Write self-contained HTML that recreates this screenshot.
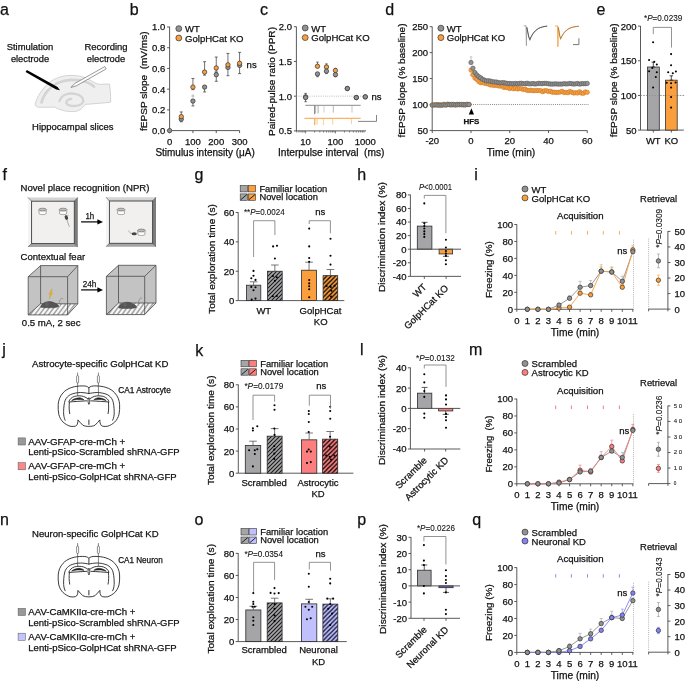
<!DOCTYPE html>
<html><head><meta charset="utf-8"><title>Figure</title>
<style>
html,body{margin:0;padding:0;background:#fff;}
body{width:685px;height:681px;overflow:hidden;}
svg{display:block;will-change:transform;}
text{font-family:"Liberation Sans",sans-serif;fill:#111111;stroke:#111111;stroke-width:0.25px;}
</style></head><body>
<svg width="685" height="681" viewBox="0 0 685 681">
<rect width="685" height="681" fill="#fff"/>
<defs>
<pattern id="hg" patternUnits="userSpaceOnUse" width="4.0" height="4.0"><rect width="4.0" height="4.0" fill="#a5a5a8"/><path d="M-1.0,1.0 L1.0,-1.0 M0,4.0 L4.0,0 M3.0,5.0 L5.0,3.0" stroke="#1a1a1a" stroke-width="1.1"/></pattern>
<pattern id="ho" patternUnits="userSpaceOnUse" width="4.4" height="4.4"><rect width="4.4" height="4.4" fill="#fa9e3e"/><path d="M-1.1,1.1 L1.1,-1.1 M0,4.4 L4.4,0 M3.3000000000000003,5.5 L5.5,3.3000000000000003" stroke="#000" stroke-width="1.25"/></pattern>
<pattern id="hs" patternUnits="userSpaceOnUse" width="4.4" height="4.4"><rect width="4.4" height="4.4" fill="#fd7e7e"/><path d="M-1.1,1.1 L1.1,-1.1 M0,4.4 L4.4,0 M3.3000000000000003,5.5 L5.5,3.3000000000000003" stroke="#000" stroke-width="1.25"/></pattern>
<pattern id="hl" patternUnits="userSpaceOnUse" width="4.4" height="4.4"><rect width="4.4" height="4.4" fill="#c0c0fd"/><path d="M-1.1,1.1 L1.1,-1.1 M0,4.4 L4.4,0 M3.3000000000000003,5.5 L5.5,3.3000000000000003" stroke="#101030" stroke-width="1.25"/></pattern>
</defs>
<!-- panel_a -->
<text x="0.00" y="14.60" font-size="16">a</text>
<text x="30.00" y="50.20" font-size="9.5" text-anchor="middle" textLength="46.70" lengthAdjust="spacingAndGlyphs">Stimulation</text>
<text x="30.00" y="61.60" font-size="9.5" text-anchor="middle" textLength="38.20" lengthAdjust="spacingAndGlyphs">electrode</text>
<text x="106.00" y="50.20" font-size="9.5" text-anchor="middle" textLength="43.20" lengthAdjust="spacingAndGlyphs">Recording</text>
<text x="106.00" y="61.60" font-size="9.5" text-anchor="middle" textLength="38.60" lengthAdjust="spacingAndGlyphs">electrode</text>
<text x="72.80" y="130.00" font-size="9.5" text-anchor="middle" textLength="81.50" lengthAdjust="spacingAndGlyphs">Hippocampal slices</text>
<filter id="sb" x="-10%" y="-10%" width="120%" height="120%"><feGaussianBlur stdDeviation="0.5"/></filter>
<path d="M35.2,104.0 C37,97 42,89 48.6,83.0 C55,77.8 63,75.5 71.0,75.4 C77,75.4 82,76.3 85.8,78.0 C90,79.8 94,82.6 97.5,84.0 C99,84.4 101,84.4 102.5,84.3 L109.4,84.0 C110.4,89 110.8,96 110.6,102.2 C104,103 95,103.6 85.5,104.4 C82.5,108.5 78.5,111.6 73.4,111.6 C69,111.6 65,111.2 62.3,110.2 C59,109.3 56.5,108.2 54.8,107.1 C49,107.3 42,107.4 38.2,107.2 C36.2,106.9 35.0,105.6 35.2,104.0 Z" fill="#efefef" stroke="#cfcfcf" stroke-width="0.9"/>
<path d="M41.2,103.5 C43,97 45,93.5 47.4,91.0 C50.5,87.3 53.5,85 57.3,83.2 C62,81 66.5,80.1 71.0,79.9 C75.5,79.8 79.5,80.2 83.3,81.2 C87,82.2 90.5,83.6 92.5,85.3 C93.6,86.2 94.3,87 94.6,87.6" fill="none" stroke="#d4d4d4" stroke-width="2.6" filter="url(#sb)"/>
<path d="M59.2,102.0 C60.5,98 62.5,95.5 65.5,94.5 C68.5,93.5 72,93.3 75,93.8 C78.5,94.4 81.5,96 82.8,98.8 C84,101.5 82.5,104 79.6,105.0 C76.5,106.1 73,106.2 70,105.6 C67.5,105.1 65.8,103.6 66.4,101.6 C67,99.8 69.5,98.8 72.2,98.8" fill="none" stroke="#d4d4d4" stroke-width="2.3" filter="url(#sb)"/>
<path d="M25.6,71.9 L26.9,69.9 L57.6,86.9 L60,90.2 L56.2,89.4 Z" fill="#000"/>
<path d="M71,87.4 L74.6,83.6 L104.8,66.6 L106.2,68.9 L76.2,85.9 Z" fill="#fff" stroke="#444" stroke-width="0.55"/>
<!-- panel_b -->
<text x="129.80" y="14.60" font-size="16">b</text>
<line x1="169.60" y1="26.60" x2="169.60" y2="130.60" stroke="#474747" stroke-width="0.9"/>
<line x1="167.10" y1="130.60" x2="169.60" y2="130.60" stroke="#474747" stroke-width="0.9"/>
<text x="165.20" y="134.00" font-size="9.5" text-anchor="end">0.0</text>
<line x1="167.10" y1="109.88" x2="169.60" y2="109.88" stroke="#474747" stroke-width="0.9"/>
<text x="165.20" y="113.28" font-size="9.5" text-anchor="end">0.2</text>
<line x1="167.10" y1="89.16" x2="169.60" y2="89.16" stroke="#474747" stroke-width="0.9"/>
<text x="165.20" y="92.56" font-size="9.5" text-anchor="end">0.4</text>
<line x1="167.10" y1="68.44" x2="169.60" y2="68.44" stroke="#474747" stroke-width="0.9"/>
<text x="165.20" y="71.84" font-size="9.5" text-anchor="end">0.6</text>
<line x1="167.10" y1="47.72" x2="169.60" y2="47.72" stroke="#474747" stroke-width="0.9"/>
<text x="165.20" y="51.12" font-size="9.5" text-anchor="end">0.8</text>
<line x1="167.10" y1="27.00" x2="169.60" y2="27.00" stroke="#474747" stroke-width="0.9"/>
<text x="165.20" y="30.40" font-size="9.5" text-anchor="end">1.0</text>
<line x1="169.60" y1="130.60" x2="239.60" y2="130.60" stroke="#474747" stroke-width="0.9"/>
<line x1="169.60" y1="130.60" x2="169.60" y2="133.10" stroke="#474747" stroke-width="0.9"/>
<text x="169.60" y="144.60" font-size="9.5" text-anchor="middle">0</text>
<line x1="192.93" y1="130.60" x2="192.93" y2="133.10" stroke="#474747" stroke-width="0.9"/>
<text x="192.93" y="144.60" font-size="9.5" text-anchor="middle">100</text>
<line x1="216.26" y1="130.60" x2="216.26" y2="133.10" stroke="#474747" stroke-width="0.9"/>
<text x="216.26" y="144.60" font-size="9.5" text-anchor="middle">200</text>
<line x1="239.59" y1="130.60" x2="239.59" y2="133.10" stroke="#474747" stroke-width="0.9"/>
<text x="239.59" y="144.60" font-size="9.5" text-anchor="middle">300</text>
<text x="205.10" y="156.20" font-size="10" text-anchor="middle" textLength="99.40" lengthAdjust="spacingAndGlyphs">Stimulus intensity (μA)</text>
<text x="147.40" y="81.20" font-size="9" text-anchor="middle" textLength="99.50" lengthAdjust="spacingAndGlyphs" transform="rotate(-90 147.40 81.20)">fEPSP slope  (mV/ms)</text>
<line x1="181.26" y1="118.43" x2="181.26" y2="121.79" stroke="#333" stroke-width="0.7"/>
<line x1="179.76" y1="118.43" x2="182.76" y2="118.43" stroke="#333" stroke-width="0.7"/>
<line x1="179.76" y1="121.79" x2="182.76" y2="121.79" stroke="#333" stroke-width="0.7"/>
<line x1="181.26" y1="111.95" x2="181.26" y2="118.01" stroke="#333" stroke-width="0.7"/>
<line x1="179.76" y1="111.95" x2="182.76" y2="111.95" stroke="#333" stroke-width="0.7"/>
<line x1="179.76" y1="118.01" x2="182.76" y2="118.01" stroke="#333" stroke-width="0.7"/>
<line x1="192.93" y1="99.61" x2="192.93" y2="105.94" stroke="#333" stroke-width="0.7"/>
<line x1="191.43" y1="99.61" x2="194.43" y2="99.61" stroke="#333" stroke-width="0.7"/>
<line x1="191.43" y1="105.94" x2="194.43" y2="105.94" stroke="#333" stroke-width="0.7"/>
<line x1="192.93" y1="78.49" x2="192.93" y2="89.67" stroke="#333" stroke-width="0.7"/>
<line x1="191.43" y1="78.49" x2="194.43" y2="78.49" stroke="#333" stroke-width="0.7"/>
<line x1="191.43" y1="89.67" x2="194.43" y2="89.67" stroke="#333" stroke-width="0.7"/>
<line x1="204.59" y1="85.63" x2="204.59" y2="91.96" stroke="#333" stroke-width="0.7"/>
<line x1="203.09" y1="85.63" x2="206.09" y2="85.63" stroke="#333" stroke-width="0.7"/>
<line x1="203.09" y1="91.96" x2="206.09" y2="91.96" stroke="#333" stroke-width="0.7"/>
<line x1="204.59" y1="61.71" x2="204.59" y2="75.17" stroke="#333" stroke-width="0.7"/>
<line x1="203.09" y1="61.71" x2="206.09" y2="61.71" stroke="#333" stroke-width="0.7"/>
<line x1="203.09" y1="75.17" x2="206.09" y2="75.17" stroke="#333" stroke-width="0.7"/>
<line x1="216.26" y1="72.67" x2="216.26" y2="81.29" stroke="#333" stroke-width="0.7"/>
<line x1="214.76" y1="72.67" x2="217.76" y2="72.67" stroke="#333" stroke-width="0.7"/>
<line x1="214.76" y1="81.29" x2="217.76" y2="81.29" stroke="#333" stroke-width="0.7"/>
<line x1="216.26" y1="57.04" x2="216.26" y2="71.19" stroke="#333" stroke-width="0.7"/>
<line x1="214.76" y1="57.04" x2="217.76" y2="57.04" stroke="#333" stroke-width="0.7"/>
<line x1="214.76" y1="71.19" x2="217.76" y2="71.19" stroke="#333" stroke-width="0.7"/>
<line x1="227.93" y1="64.92" x2="227.93" y2="75.69" stroke="#333" stroke-width="0.7"/>
<line x1="226.43" y1="64.92" x2="229.43" y2="64.92" stroke="#333" stroke-width="0.7"/>
<line x1="226.43" y1="75.69" x2="229.43" y2="75.69" stroke="#333" stroke-width="0.7"/>
<line x1="227.93" y1="53.42" x2="227.93" y2="68.23" stroke="#333" stroke-width="0.7"/>
<line x1="226.43" y1="53.42" x2="229.43" y2="53.42" stroke="#333" stroke-width="0.7"/>
<line x1="226.43" y1="68.23" x2="229.43" y2="68.23" stroke="#333" stroke-width="0.7"/>
<line x1="239.59" y1="62.85" x2="239.59" y2="73.62" stroke="#333" stroke-width="0.7"/>
<line x1="238.09" y1="62.85" x2="241.09" y2="62.85" stroke="#333" stroke-width="0.7"/>
<line x1="238.09" y1="73.62" x2="241.09" y2="73.62" stroke="#333" stroke-width="0.7"/>
<line x1="239.59" y1="52.38" x2="239.59" y2="66.52" stroke="#333" stroke-width="0.7"/>
<line x1="238.09" y1="52.38" x2="241.09" y2="52.38" stroke="#333" stroke-width="0.7"/>
<line x1="238.09" y1="66.52" x2="241.09" y2="66.52" stroke="#333" stroke-width="0.7"/>
<circle cx="192.93" cy="95.89" r="1.6" fill="#c8c8c8"/>
<circle cx="169.60" cy="130.60" r="2.2" fill="#929292" stroke="#333333" stroke-width="0.7"/>
<circle cx="181.26" cy="119.20" r="2.2" fill="#929292" stroke="#333333" stroke-width="0.7"/>
<circle cx="192.93" cy="101.07" r="2.2" fill="#929292" stroke="#333333" stroke-width="0.7"/>
<circle cx="204.59" cy="87.09" r="2.2" fill="#929292" stroke="#333333" stroke-width="0.7"/>
<circle cx="216.26" cy="74.66" r="2.2" fill="#929292" stroke="#333333" stroke-width="0.7"/>
<circle cx="227.93" cy="67.40" r="2.2" fill="#929292" stroke="#333333" stroke-width="0.7"/>
<circle cx="239.59" cy="65.33" r="2.2" fill="#929292" stroke="#333333" stroke-width="0.7"/>
<circle cx="181.26" cy="116.61" r="2.2" fill="#fa9e3e" stroke="#333333" stroke-width="0.7"/>
<circle cx="192.93" cy="87.09" r="2.2" fill="#fa9e3e" stroke="#333333" stroke-width="0.7"/>
<circle cx="204.59" cy="72.07" r="2.2" fill="#fa9e3e" stroke="#333333" stroke-width="0.7"/>
<circle cx="216.26" cy="67.92" r="2.2" fill="#fa9e3e" stroke="#333333" stroke-width="0.7"/>
<circle cx="227.93" cy="64.81" r="2.2" fill="#fa9e3e" stroke="#333333" stroke-width="0.7"/>
<circle cx="239.59" cy="63.26" r="2.2" fill="#fa9e3e" stroke="#333333" stroke-width="0.7"/>
<text x="246.60" y="68.00" font-size="9.5">ns</text>
<circle cx="178.80" cy="28.60" r="2.95" fill="#929292" stroke="#333333" stroke-width="0.7"/>
<circle cx="178.80" cy="38.00" r="2.95" fill="#fa9e3e" stroke="#333333" stroke-width="0.7"/>
<text x="185.00" y="32.30" font-size="9.5">WT</text>
<text x="185.00" y="41.80" font-size="9.5" textLength="58.50" lengthAdjust="spacingAndGlyphs">GolpHCat KO</text>
<!-- panel_c -->
<text x="259.90" y="14.60" font-size="16">c</text>
<line x1="296.40" y1="26.60" x2="296.40" y2="130.90" stroke="#474747" stroke-width="0.9"/>
<line x1="293.90" y1="130.90" x2="296.40" y2="130.90" stroke="#474747" stroke-width="0.9"/>
<text x="292.00" y="134.30" font-size="9.5" text-anchor="end">0.5</text>
<line x1="293.90" y1="96.17" x2="296.40" y2="96.17" stroke="#474747" stroke-width="0.9"/>
<text x="292.00" y="99.57" font-size="9.5" text-anchor="end">1.0</text>
<line x1="293.90" y1="61.43" x2="296.40" y2="61.43" stroke="#474747" stroke-width="0.9"/>
<text x="292.00" y="64.83" font-size="9.5" text-anchor="end">1.5</text>
<line x1="293.90" y1="26.70" x2="296.40" y2="26.70" stroke="#474747" stroke-width="0.9"/>
<text x="292.00" y="30.10" font-size="9.5" text-anchor="end">2.0</text>
<line x1="296.40" y1="130.90" x2="366.00" y2="130.90" stroke="#474747" stroke-width="0.9"/>
<line x1="296.61" y1="130.90" x2="296.61" y2="132.50" stroke="#474747" stroke-width="0.7"/>
<line x1="298.98" y1="130.90" x2="298.98" y2="132.50" stroke="#474747" stroke-width="0.7"/>
<line x1="300.98" y1="130.90" x2="300.98" y2="132.50" stroke="#474747" stroke-width="0.7"/>
<line x1="302.71" y1="130.90" x2="302.71" y2="132.50" stroke="#474747" stroke-width="0.7"/>
<line x1="304.23" y1="130.90" x2="304.23" y2="132.50" stroke="#474747" stroke-width="0.7"/>
<line x1="305.60" y1="130.90" x2="305.60" y2="133.40" stroke="#474747" stroke-width="0.7"/>
<line x1="314.59" y1="130.90" x2="314.59" y2="132.50" stroke="#474747" stroke-width="0.7"/>
<line x1="319.84" y1="130.90" x2="319.84" y2="132.50" stroke="#474747" stroke-width="0.7"/>
<line x1="323.57" y1="130.90" x2="323.57" y2="132.50" stroke="#474747" stroke-width="0.7"/>
<line x1="326.46" y1="130.90" x2="326.46" y2="132.50" stroke="#474747" stroke-width="0.7"/>
<line x1="328.83" y1="130.90" x2="328.83" y2="132.50" stroke="#474747" stroke-width="0.7"/>
<line x1="330.83" y1="130.90" x2="330.83" y2="132.50" stroke="#474747" stroke-width="0.7"/>
<line x1="332.56" y1="130.90" x2="332.56" y2="132.50" stroke="#474747" stroke-width="0.7"/>
<line x1="334.08" y1="130.90" x2="334.08" y2="132.50" stroke="#474747" stroke-width="0.7"/>
<line x1="335.45" y1="130.90" x2="335.45" y2="133.40" stroke="#474747" stroke-width="0.7"/>
<line x1="344.44" y1="130.90" x2="344.44" y2="132.50" stroke="#474747" stroke-width="0.7"/>
<line x1="349.69" y1="130.90" x2="349.69" y2="132.50" stroke="#474747" stroke-width="0.7"/>
<line x1="353.42" y1="130.90" x2="353.42" y2="132.50" stroke="#474747" stroke-width="0.7"/>
<line x1="356.31" y1="130.90" x2="356.31" y2="132.50" stroke="#474747" stroke-width="0.7"/>
<line x1="358.68" y1="130.90" x2="358.68" y2="132.50" stroke="#474747" stroke-width="0.7"/>
<line x1="360.68" y1="130.90" x2="360.68" y2="132.50" stroke="#474747" stroke-width="0.7"/>
<line x1="362.41" y1="130.90" x2="362.41" y2="132.50" stroke="#474747" stroke-width="0.7"/>
<line x1="363.93" y1="130.90" x2="363.93" y2="132.50" stroke="#474747" stroke-width="0.7"/>
<text x="305.60" y="145.10" font-size="9.5" text-anchor="middle">10</text>
<text x="335.45" y="145.10" font-size="9.5" text-anchor="middle">100</text>
<text x="365.30" y="145.10" font-size="9.5" text-anchor="middle">1000</text>
<text x="331.20" y="155.60" font-size="10" text-anchor="middle" textLength="106.60" lengthAdjust="spacingAndGlyphs">Interpulse interval  (ms)</text>
<text x="274.60" y="81.50" font-size="9" text-anchor="middle" textLength="109.00" lengthAdjust="spacingAndGlyphs" transform="rotate(-90 274.60 81.50)">Paired-pulse ratio (PPR)</text>
<line x1="296.40" y1="96.17" x2="366.00" y2="96.17" stroke="#9a9a9a" stroke-width="0.7" stroke-dasharray="0.9 1.3"/>
<line x1="305.30" y1="105.30" x2="360.70" y2="105.30" stroke="#8a8a8a" stroke-width="1.0"/>
<line x1="314.60" y1="105.30" x2="314.60" y2="114.20" stroke="#777" stroke-width="0.9"/>
<line x1="315.60" y1="105.30" x2="315.60" y2="113.50" stroke="#999" stroke-width="0.7"/>
<line x1="318.10" y1="105.30" x2="318.10" y2="113.40" stroke="#888" stroke-width="0.7"/>
<line x1="324.00" y1="105.30" x2="324.00" y2="112.60" stroke="#bbb" stroke-width="0.7"/>
<line x1="333.30" y1="105.30" x2="333.30" y2="112.60" stroke="#999" stroke-width="0.7"/>
<line x1="352.00" y1="105.30" x2="352.00" y2="112.60" stroke="#aaa" stroke-width="0.7"/>
<line x1="304.40" y1="118.30" x2="360.70" y2="118.30" stroke="#f7a040" stroke-width="1.0"/>
<line x1="314.60" y1="118.30" x2="314.60" y2="125.20" stroke="#f7a040" stroke-width="0.9"/>
<line x1="316.00" y1="118.30" x2="316.00" y2="124.80" stroke="#f9b870" stroke-width="0.7"/>
<line x1="317.50" y1="118.30" x2="317.50" y2="124.50" stroke="#f9c490" stroke-width="0.6"/>
<line x1="323.40" y1="118.30" x2="323.40" y2="125.00" stroke="#f9b870" stroke-width="0.7"/>
<line x1="332.70" y1="118.30" x2="332.70" y2="124.60" stroke="#f9b870" stroke-width="0.7"/>
<line x1="351.40" y1="118.30" x2="351.40" y2="124.20" stroke="#f9b870" stroke-width="0.7"/>
<path d="M358,121.4 L376.5,121.4 L376.5,115" fill="none" stroke="#666" stroke-width="0.8"/>
<line x1="305.60" y1="93.39" x2="305.60" y2="96.86" stroke="#333" stroke-width="0.7"/>
<line x1="304.35" y1="93.39" x2="306.85" y2="93.39" stroke="#333" stroke-width="0.7"/>
<line x1="304.35" y1="96.86" x2="306.85" y2="96.86" stroke="#333" stroke-width="0.7"/>
<line x1="305.60" y1="97.55" x2="305.60" y2="101.72" stroke="#333" stroke-width="0.7"/>
<line x1="304.35" y1="97.55" x2="306.85" y2="97.55" stroke="#333" stroke-width="0.7"/>
<line x1="304.35" y1="101.72" x2="306.85" y2="101.72" stroke="#333" stroke-width="0.7"/>
<line x1="317.48" y1="62.12" x2="317.48" y2="66.29" stroke="#333" stroke-width="0.7"/>
<line x1="316.23" y1="62.12" x2="318.73" y2="62.12" stroke="#333" stroke-width="0.7"/>
<line x1="316.23" y1="66.29" x2="318.73" y2="66.29" stroke="#333" stroke-width="0.7"/>
<line x1="317.48" y1="73.93" x2="317.48" y2="76.71" stroke="#333" stroke-width="0.7"/>
<line x1="316.23" y1="73.93" x2="318.73" y2="73.93" stroke="#333" stroke-width="0.7"/>
<line x1="316.23" y1="76.71" x2="318.73" y2="76.71" stroke="#333" stroke-width="0.7"/>
<line x1="326.46" y1="63.86" x2="326.46" y2="66.99" stroke="#333" stroke-width="0.7"/>
<line x1="325.21" y1="63.86" x2="327.71" y2="63.86" stroke="#333" stroke-width="0.7"/>
<line x1="325.21" y1="66.99" x2="327.71" y2="66.99" stroke="#333" stroke-width="0.7"/>
<line x1="326.46" y1="71.16" x2="326.46" y2="73.59" stroke="#333" stroke-width="0.7"/>
<line x1="325.21" y1="71.16" x2="327.71" y2="71.16" stroke="#333" stroke-width="0.7"/>
<line x1="325.21" y1="73.59" x2="327.71" y2="73.59" stroke="#333" stroke-width="0.7"/>
<line x1="335.45" y1="68.38" x2="335.45" y2="70.46" stroke="#333" stroke-width="0.7"/>
<line x1="334.20" y1="68.38" x2="336.70" y2="68.38" stroke="#333" stroke-width="0.7"/>
<line x1="334.20" y1="70.46" x2="336.70" y2="70.46" stroke="#333" stroke-width="0.7"/>
<line x1="335.45" y1="74.63" x2="335.45" y2="76.71" stroke="#333" stroke-width="0.7"/>
<line x1="334.20" y1="74.63" x2="336.70" y2="74.63" stroke="#333" stroke-width="0.7"/>
<line x1="334.20" y1="76.71" x2="336.70" y2="76.71" stroke="#333" stroke-width="0.7"/>
<line x1="347.33" y1="87.48" x2="347.33" y2="88.52" stroke="#333" stroke-width="0.7"/>
<line x1="346.08" y1="87.48" x2="348.58" y2="87.48" stroke="#333" stroke-width="0.7"/>
<line x1="346.08" y1="88.52" x2="348.58" y2="88.52" stroke="#333" stroke-width="0.7"/>
<line x1="347.33" y1="88.52" x2="347.33" y2="89.57" stroke="#333" stroke-width="0.7"/>
<line x1="346.08" y1="88.52" x2="348.58" y2="88.52" stroke="#333" stroke-width="0.7"/>
<line x1="346.08" y1="89.57" x2="348.58" y2="89.57" stroke="#333" stroke-width="0.7"/>
<line x1="356.31" y1="96.86" x2="356.31" y2="97.55" stroke="#333" stroke-width="0.7"/>
<line x1="355.06" y1="96.86" x2="357.56" y2="96.86" stroke="#333" stroke-width="0.7"/>
<line x1="355.06" y1="97.55" x2="357.56" y2="97.55" stroke="#333" stroke-width="0.7"/>
<line x1="356.31" y1="97.55" x2="356.31" y2="98.25" stroke="#333" stroke-width="0.7"/>
<line x1="355.06" y1="97.55" x2="357.56" y2="97.55" stroke="#333" stroke-width="0.7"/>
<line x1="355.06" y1="98.25" x2="357.56" y2="98.25" stroke="#333" stroke-width="0.7"/>
<line x1="365.30" y1="96.17" x2="365.30" y2="96.86" stroke="#333" stroke-width="0.7"/>
<line x1="364.05" y1="96.17" x2="366.55" y2="96.17" stroke="#333" stroke-width="0.7"/>
<line x1="364.05" y1="96.86" x2="366.55" y2="96.86" stroke="#333" stroke-width="0.7"/>
<line x1="365.30" y1="96.86" x2="365.30" y2="97.55" stroke="#333" stroke-width="0.7"/>
<line x1="364.05" y1="96.86" x2="366.55" y2="96.86" stroke="#333" stroke-width="0.7"/>
<line x1="364.05" y1="97.55" x2="366.55" y2="97.55" stroke="#333" stroke-width="0.7"/>
<circle cx="305.60" cy="96.86" r="2.2" fill="#fa9e3e" stroke="#333333" stroke-width="0.7"/>
<circle cx="317.48" cy="66.29" r="2.2" fill="#fa9e3e" stroke="#333333" stroke-width="0.7"/>
<circle cx="326.46" cy="66.99" r="2.2" fill="#fa9e3e" stroke="#333333" stroke-width="0.7"/>
<circle cx="335.45" cy="70.46" r="2.2" fill="#fa9e3e" stroke="#333333" stroke-width="0.7"/>
<circle cx="347.33" cy="88.52" r="2.2" fill="#fa9e3e" stroke="#333333" stroke-width="0.7"/>
<circle cx="356.31" cy="97.55" r="2.2" fill="#fa9e3e" stroke="#333333" stroke-width="0.7"/>
<circle cx="365.30" cy="96.86" r="2.2" fill="#fa9e3e" stroke="#333333" stroke-width="0.7"/>
<circle cx="317.48" cy="73.93" r="2.2" fill="#929292" stroke="#333333" stroke-width="0.7"/>
<circle cx="326.46" cy="71.16" r="2.2" fill="#929292" stroke="#333333" stroke-width="0.7"/>
<circle cx="335.45" cy="74.63" r="2.2" fill="#929292" stroke="#333333" stroke-width="0.7"/>
<circle cx="305.60" cy="97.55" r="2.2" fill="#929292" stroke="#333333" stroke-width="0.7"/>
<circle cx="347.33" cy="88.52" r="2.2" fill="#929292" stroke="#333333" stroke-width="0.7"/>
<circle cx="356.31" cy="97.55" r="2.2" fill="#929292" stroke="#333333" stroke-width="0.7"/>
<circle cx="365.30" cy="96.86" r="2.2" fill="#929292" stroke="#333333" stroke-width="0.7"/>
<text x="371.40" y="99.60" font-size="9.5">ns</text>
<circle cx="305.20" cy="28.00" r="2.95" fill="#929292" stroke="#333333" stroke-width="0.7"/>
<circle cx="305.20" cy="37.60" r="2.95" fill="#fa9e3e" stroke="#333333" stroke-width="0.7"/>
<text x="311.20" y="31.60" font-size="9.5">WT</text>
<text x="311.20" y="41.20" font-size="9.5" textLength="58.50" lengthAdjust="spacingAndGlyphs">GolpHCat KO</text>
<!-- panel_d -->
<text x="385.20" y="14.60" font-size="16">d</text>
<line x1="432.20" y1="26.60" x2="432.20" y2="130.60" stroke="#474747" stroke-width="0.9"/>
<line x1="429.70" y1="130.40" x2="432.20" y2="130.40" stroke="#474747" stroke-width="0.9"/>
<text x="428.00" y="133.80" font-size="9.5" text-anchor="end">50</text>
<line x1="429.70" y1="104.48" x2="432.20" y2="104.48" stroke="#474747" stroke-width="0.9"/>
<text x="428.00" y="107.88" font-size="9.5" text-anchor="end">100</text>
<line x1="429.70" y1="78.55" x2="432.20" y2="78.55" stroke="#474747" stroke-width="0.9"/>
<text x="428.00" y="81.95" font-size="9.5" text-anchor="end">150</text>
<line x1="429.70" y1="52.63" x2="432.20" y2="52.63" stroke="#474747" stroke-width="0.9"/>
<text x="428.00" y="56.03" font-size="9.5" text-anchor="end">200</text>
<line x1="429.70" y1="26.70" x2="432.20" y2="26.70" stroke="#474747" stroke-width="0.9"/>
<text x="428.00" y="30.10" font-size="9.5" text-anchor="end">250</text>
<line x1="432.20" y1="130.60" x2="587.30" y2="130.60" stroke="#474747" stroke-width="0.9"/>
<line x1="432.25" y1="130.60" x2="432.25" y2="133.10" stroke="#474747" stroke-width="0.9"/>
<text x="432.25" y="144.40" font-size="9.5" text-anchor="middle">-20</text>
<line x1="471.00" y1="130.60" x2="471.00" y2="133.10" stroke="#474747" stroke-width="0.9"/>
<text x="471.00" y="144.40" font-size="9.5" text-anchor="middle">0</text>
<line x1="509.75" y1="130.60" x2="509.75" y2="133.10" stroke="#474747" stroke-width="0.9"/>
<text x="509.75" y="144.40" font-size="9.5" text-anchor="middle">20</text>
<line x1="548.50" y1="130.60" x2="548.50" y2="133.10" stroke="#474747" stroke-width="0.9"/>
<text x="548.50" y="144.40" font-size="9.5" text-anchor="middle">40</text>
<line x1="587.25" y1="130.60" x2="587.25" y2="133.10" stroke="#474747" stroke-width="0.9"/>
<text x="587.25" y="144.40" font-size="9.5" text-anchor="middle">60</text>
<text x="511.00" y="155.80" font-size="10" text-anchor="middle" textLength="48.50" lengthAdjust="spacingAndGlyphs">Time (min)</text>
<text x="404.60" y="80.50" font-size="9" text-anchor="middle" textLength="114.00" lengthAdjust="spacingAndGlyphs" transform="rotate(-90 404.60 80.50)">fEPSP slope (% baseline)</text>
<line x1="471.00" y1="104.48" x2="589.00" y2="104.48" stroke="#444" stroke-width="0.7" stroke-dasharray="0.9 1.2"/>
<line x1="471.00" y1="56.77" x2="471.00" y2="62.48" stroke="#aaa" stroke-width="0.7"/>
<line x1="469.80" y1="56.77" x2="472.20" y2="56.77" stroke="#aaa" stroke-width="0.7"/>
<line x1="469.80" y1="62.48" x2="472.20" y2="62.48" stroke="#aaa" stroke-width="0.7"/>
<line x1="471.00" y1="69.74" x2="471.00" y2="75.44" stroke="#f9c48a" stroke-width="0.7"/>
<line x1="469.80" y1="69.74" x2="472.20" y2="69.74" stroke="#f9c48a" stroke-width="0.7"/>
<line x1="469.80" y1="75.44" x2="472.20" y2="75.44" stroke="#f9c48a" stroke-width="0.7"/>
<line x1="471.00" y1="71.62" x2="471.00" y2="68.51" stroke="#fbd0a0" stroke-width="0.6"/>
<line x1="472.94" y1="76.38" x2="472.94" y2="73.27" stroke="#fbd0a0" stroke-width="0.6"/>
<line x1="474.88" y1="79.64" x2="474.88" y2="76.53" stroke="#fbd0a0" stroke-width="0.6"/>
<line x1="476.81" y1="80.97" x2="476.81" y2="77.86" stroke="#fbd0a0" stroke-width="0.6"/>
<line x1="478.75" y1="83.14" x2="478.75" y2="80.03" stroke="#fbd0a0" stroke-width="0.6"/>
<line x1="480.69" y1="84.27" x2="480.69" y2="81.16" stroke="#fbd0a0" stroke-width="0.6"/>
<line x1="482.62" y1="83.88" x2="482.62" y2="80.77" stroke="#fbd0a0" stroke-width="0.6"/>
<line x1="484.56" y1="84.88" x2="484.56" y2="81.77" stroke="#fbd0a0" stroke-width="0.6"/>
<line x1="486.50" y1="85.08" x2="486.50" y2="81.97" stroke="#fbd0a0" stroke-width="0.6"/>
<line x1="488.44" y1="85.70" x2="488.44" y2="82.59" stroke="#fbd0a0" stroke-width="0.6"/>
<line x1="490.38" y1="86.55" x2="490.38" y2="83.44" stroke="#fbd0a0" stroke-width="0.6"/>
<line x1="492.31" y1="86.49" x2="492.31" y2="83.38" stroke="#fbd0a0" stroke-width="0.6"/>
<line x1="494.25" y1="87.10" x2="494.25" y2="83.99" stroke="#fbd0a0" stroke-width="0.6"/>
<line x1="496.19" y1="86.65" x2="496.19" y2="83.54" stroke="#fbd0a0" stroke-width="0.6"/>
<line x1="498.12" y1="87.46" x2="498.12" y2="84.35" stroke="#fbd0a0" stroke-width="0.6"/>
<line x1="500.06" y1="87.73" x2="500.06" y2="84.62" stroke="#fbd0a0" stroke-width="0.6"/>
<line x1="502.00" y1="87.56" x2="502.00" y2="84.45" stroke="#fbd0a0" stroke-width="0.6"/>
<line x1="503.94" y1="89.03" x2="503.94" y2="85.92" stroke="#fbd0a0" stroke-width="0.6"/>
<line x1="505.88" y1="88.69" x2="505.88" y2="85.57" stroke="#fbd0a0" stroke-width="0.6"/>
<line x1="507.81" y1="89.30" x2="507.81" y2="86.19" stroke="#fbd0a0" stroke-width="0.6"/>
<line x1="509.75" y1="90.14" x2="509.75" y2="87.03" stroke="#fbd0a0" stroke-width="0.6"/>
<line x1="511.69" y1="89.31" x2="511.69" y2="86.20" stroke="#fbd0a0" stroke-width="0.6"/>
<line x1="513.62" y1="90.41" x2="513.62" y2="87.30" stroke="#fbd0a0" stroke-width="0.6"/>
<line x1="515.56" y1="89.60" x2="515.56" y2="86.49" stroke="#fbd0a0" stroke-width="0.6"/>
<line x1="517.50" y1="90.52" x2="517.50" y2="87.41" stroke="#fbd0a0" stroke-width="0.6"/>
<line x1="519.44" y1="90.01" x2="519.44" y2="86.90" stroke="#fbd0a0" stroke-width="0.6"/>
<line x1="521.38" y1="90.24" x2="521.38" y2="87.13" stroke="#fbd0a0" stroke-width="0.6"/>
<line x1="523.31" y1="91.18" x2="523.31" y2="88.07" stroke="#fbd0a0" stroke-width="0.6"/>
<line x1="525.25" y1="90.58" x2="525.25" y2="87.47" stroke="#fbd0a0" stroke-width="0.6"/>
<line x1="527.19" y1="91.97" x2="527.19" y2="88.86" stroke="#fbd0a0" stroke-width="0.6"/>
<line x1="529.12" y1="92.01" x2="529.12" y2="88.90" stroke="#fbd0a0" stroke-width="0.6"/>
<line x1="531.06" y1="91.75" x2="531.06" y2="88.63" stroke="#fbd0a0" stroke-width="0.6"/>
<line x1="533.00" y1="92.27" x2="533.00" y2="89.16" stroke="#fbd0a0" stroke-width="0.6"/>
<line x1="534.94" y1="92.15" x2="534.94" y2="89.04" stroke="#fbd0a0" stroke-width="0.6"/>
<line x1="536.88" y1="92.05" x2="536.88" y2="88.94" stroke="#fbd0a0" stroke-width="0.6"/>
<line x1="538.81" y1="91.97" x2="538.81" y2="88.86" stroke="#fbd0a0" stroke-width="0.6"/>
<line x1="540.75" y1="92.22" x2="540.75" y2="89.11" stroke="#fbd0a0" stroke-width="0.6"/>
<line x1="542.69" y1="93.28" x2="542.69" y2="90.17" stroke="#fbd0a0" stroke-width="0.6"/>
<line x1="544.62" y1="92.19" x2="544.62" y2="89.08" stroke="#fbd0a0" stroke-width="0.6"/>
<line x1="546.56" y1="92.27" x2="546.56" y2="89.16" stroke="#fbd0a0" stroke-width="0.6"/>
<line x1="548.50" y1="93.04" x2="548.50" y2="89.93" stroke="#fbd0a0" stroke-width="0.6"/>
<line x1="550.44" y1="92.75" x2="550.44" y2="89.64" stroke="#fbd0a0" stroke-width="0.6"/>
<line x1="552.38" y1="93.78" x2="552.38" y2="90.67" stroke="#fbd0a0" stroke-width="0.6"/>
<line x1="554.31" y1="93.72" x2="554.31" y2="90.61" stroke="#fbd0a0" stroke-width="0.6"/>
<line x1="556.25" y1="93.99" x2="556.25" y2="90.88" stroke="#fbd0a0" stroke-width="0.6"/>
<line x1="558.19" y1="93.91" x2="558.19" y2="90.80" stroke="#fbd0a0" stroke-width="0.6"/>
<line x1="560.12" y1="93.64" x2="560.12" y2="90.53" stroke="#fbd0a0" stroke-width="0.6"/>
<line x1="562.06" y1="92.87" x2="562.06" y2="89.76" stroke="#fbd0a0" stroke-width="0.6"/>
<line x1="564.00" y1="94.15" x2="564.00" y2="91.03" stroke="#fbd0a0" stroke-width="0.6"/>
<line x1="565.94" y1="93.89" x2="565.94" y2="90.77" stroke="#fbd0a0" stroke-width="0.6"/>
<line x1="567.88" y1="94.33" x2="567.88" y2="91.21" stroke="#fbd0a0" stroke-width="0.6"/>
<line x1="569.81" y1="92.95" x2="569.81" y2="89.83" stroke="#fbd0a0" stroke-width="0.6"/>
<line x1="571.75" y1="93.85" x2="571.75" y2="90.74" stroke="#fbd0a0" stroke-width="0.6"/>
<line x1="573.69" y1="94.54" x2="573.69" y2="91.43" stroke="#fbd0a0" stroke-width="0.6"/>
<line x1="575.62" y1="94.33" x2="575.62" y2="91.22" stroke="#fbd0a0" stroke-width="0.6"/>
<line x1="577.56" y1="94.55" x2="577.56" y2="91.44" stroke="#fbd0a0" stroke-width="0.6"/>
<line x1="579.50" y1="93.30" x2="579.50" y2="90.18" stroke="#fbd0a0" stroke-width="0.6"/>
<line x1="581.44" y1="94.68" x2="581.44" y2="91.57" stroke="#fbd0a0" stroke-width="0.6"/>
<line x1="583.38" y1="94.92" x2="583.38" y2="91.81" stroke="#fbd0a0" stroke-width="0.6"/>
<line x1="585.31" y1="93.39" x2="585.31" y2="90.28" stroke="#fbd0a0" stroke-width="0.6"/>
<line x1="587.25" y1="93.90" x2="587.25" y2="90.79" stroke="#fbd0a0" stroke-width="0.6"/>
<circle cx="432.25" cy="105.01" r="2.2" fill="#fa9e3e" stroke="#c07020" stroke-width="0.5"/>
<circle cx="434.19" cy="105.11" r="2.2" fill="#fa9e3e" stroke="#c07020" stroke-width="0.5"/>
<circle cx="436.12" cy="104.75" r="2.2" fill="#fa9e3e" stroke="#c07020" stroke-width="0.5"/>
<circle cx="438.06" cy="104.57" r="2.2" fill="#fa9e3e" stroke="#c07020" stroke-width="0.5"/>
<circle cx="440.00" cy="104.66" r="2.2" fill="#fa9e3e" stroke="#c07020" stroke-width="0.5"/>
<circle cx="441.94" cy="105.09" r="2.2" fill="#fa9e3e" stroke="#c07020" stroke-width="0.5"/>
<circle cx="443.88" cy="104.17" r="2.2" fill="#fa9e3e" stroke="#c07020" stroke-width="0.5"/>
<circle cx="445.81" cy="104.92" r="2.2" fill="#fa9e3e" stroke="#c07020" stroke-width="0.5"/>
<circle cx="447.75" cy="104.02" r="2.2" fill="#fa9e3e" stroke="#c07020" stroke-width="0.5"/>
<circle cx="449.69" cy="104.71" r="2.2" fill="#fa9e3e" stroke="#c07020" stroke-width="0.5"/>
<circle cx="451.62" cy="105.14" r="2.2" fill="#fa9e3e" stroke="#c07020" stroke-width="0.5"/>
<circle cx="453.56" cy="104.84" r="2.2" fill="#fa9e3e" stroke="#c07020" stroke-width="0.5"/>
<circle cx="455.50" cy="105.05" r="2.2" fill="#fa9e3e" stroke="#c07020" stroke-width="0.5"/>
<circle cx="457.44" cy="104.19" r="2.2" fill="#fa9e3e" stroke="#c07020" stroke-width="0.5"/>
<circle cx="459.38" cy="104.48" r="2.2" fill="#fa9e3e" stroke="#c07020" stroke-width="0.5"/>
<circle cx="461.31" cy="104.74" r="2.2" fill="#fa9e3e" stroke="#c07020" stroke-width="0.5"/>
<circle cx="463.25" cy="105.12" r="2.2" fill="#fa9e3e" stroke="#c07020" stroke-width="0.5"/>
<circle cx="465.19" cy="104.94" r="2.2" fill="#fa9e3e" stroke="#c07020" stroke-width="0.5"/>
<circle cx="467.12" cy="104.67" r="2.2" fill="#fa9e3e" stroke="#c07020" stroke-width="0.5"/>
<circle cx="469.06" cy="104.47" r="2.2" fill="#fa9e3e" stroke="#c07020" stroke-width="0.5"/>
<circle cx="471.00" cy="70.07" r="2.2" fill="#fa9e3e" stroke="#c07020" stroke-width="0.5"/>
<circle cx="472.94" cy="74.82" r="2.2" fill="#fa9e3e" stroke="#c07020" stroke-width="0.5"/>
<circle cx="474.88" cy="78.08" r="2.2" fill="#fa9e3e" stroke="#c07020" stroke-width="0.5"/>
<circle cx="476.81" cy="79.42" r="2.2" fill="#fa9e3e" stroke="#c07020" stroke-width="0.5"/>
<circle cx="478.75" cy="81.58" r="2.2" fill="#fa9e3e" stroke="#c07020" stroke-width="0.5"/>
<circle cx="480.69" cy="82.72" r="2.2" fill="#fa9e3e" stroke="#c07020" stroke-width="0.5"/>
<circle cx="482.62" cy="82.32" r="2.2" fill="#fa9e3e" stroke="#c07020" stroke-width="0.5"/>
<circle cx="484.56" cy="83.33" r="2.2" fill="#fa9e3e" stroke="#c07020" stroke-width="0.5"/>
<circle cx="486.50" cy="83.53" r="2.2" fill="#fa9e3e" stroke="#c07020" stroke-width="0.5"/>
<circle cx="488.44" cy="84.14" r="2.2" fill="#fa9e3e" stroke="#c07020" stroke-width="0.5"/>
<circle cx="490.38" cy="85.00" r="2.2" fill="#fa9e3e" stroke="#c07020" stroke-width="0.5"/>
<circle cx="492.31" cy="84.93" r="2.2" fill="#fa9e3e" stroke="#c07020" stroke-width="0.5"/>
<circle cx="494.25" cy="85.54" r="2.2" fill="#fa9e3e" stroke="#c07020" stroke-width="0.5"/>
<circle cx="496.19" cy="85.09" r="2.2" fill="#fa9e3e" stroke="#c07020" stroke-width="0.5"/>
<circle cx="498.12" cy="85.90" r="2.2" fill="#fa9e3e" stroke="#c07020" stroke-width="0.5"/>
<circle cx="500.06" cy="86.17" r="2.2" fill="#fa9e3e" stroke="#c07020" stroke-width="0.5"/>
<circle cx="502.00" cy="86.00" r="2.2" fill="#fa9e3e" stroke="#c07020" stroke-width="0.5"/>
<circle cx="503.94" cy="87.48" r="2.2" fill="#fa9e3e" stroke="#c07020" stroke-width="0.5"/>
<circle cx="505.88" cy="87.13" r="2.2" fill="#fa9e3e" stroke="#c07020" stroke-width="0.5"/>
<circle cx="507.81" cy="87.75" r="2.2" fill="#fa9e3e" stroke="#c07020" stroke-width="0.5"/>
<circle cx="509.75" cy="88.58" r="2.2" fill="#fa9e3e" stroke="#c07020" stroke-width="0.5"/>
<circle cx="511.69" cy="87.75" r="2.2" fill="#fa9e3e" stroke="#c07020" stroke-width="0.5"/>
<circle cx="513.62" cy="88.86" r="2.2" fill="#fa9e3e" stroke="#c07020" stroke-width="0.5"/>
<circle cx="515.56" cy="88.05" r="2.2" fill="#fa9e3e" stroke="#c07020" stroke-width="0.5"/>
<circle cx="517.50" cy="88.97" r="2.2" fill="#fa9e3e" stroke="#c07020" stroke-width="0.5"/>
<circle cx="519.44" cy="88.46" r="2.2" fill="#fa9e3e" stroke="#c07020" stroke-width="0.5"/>
<circle cx="521.38" cy="88.69" r="2.2" fill="#fa9e3e" stroke="#c07020" stroke-width="0.5"/>
<circle cx="523.31" cy="89.62" r="2.2" fill="#fa9e3e" stroke="#c07020" stroke-width="0.5"/>
<circle cx="525.25" cy="89.03" r="2.2" fill="#fa9e3e" stroke="#c07020" stroke-width="0.5"/>
<circle cx="527.19" cy="90.42" r="2.2" fill="#fa9e3e" stroke="#c07020" stroke-width="0.5"/>
<circle cx="529.12" cy="90.45" r="2.2" fill="#fa9e3e" stroke="#c07020" stroke-width="0.5"/>
<circle cx="531.06" cy="90.19" r="2.2" fill="#fa9e3e" stroke="#c07020" stroke-width="0.5"/>
<circle cx="533.00" cy="90.71" r="2.2" fill="#fa9e3e" stroke="#c07020" stroke-width="0.5"/>
<circle cx="534.94" cy="90.60" r="2.2" fill="#fa9e3e" stroke="#c07020" stroke-width="0.5"/>
<circle cx="536.88" cy="90.49" r="2.2" fill="#fa9e3e" stroke="#c07020" stroke-width="0.5"/>
<circle cx="538.81" cy="90.42" r="2.2" fill="#fa9e3e" stroke="#c07020" stroke-width="0.5"/>
<circle cx="540.75" cy="90.67" r="2.2" fill="#fa9e3e" stroke="#c07020" stroke-width="0.5"/>
<circle cx="542.69" cy="91.72" r="2.2" fill="#fa9e3e" stroke="#c07020" stroke-width="0.5"/>
<circle cx="544.62" cy="90.63" r="2.2" fill="#fa9e3e" stroke="#c07020" stroke-width="0.5"/>
<circle cx="546.56" cy="90.71" r="2.2" fill="#fa9e3e" stroke="#c07020" stroke-width="0.5"/>
<circle cx="548.50" cy="91.48" r="2.2" fill="#fa9e3e" stroke="#c07020" stroke-width="0.5"/>
<circle cx="550.44" cy="91.19" r="2.2" fill="#fa9e3e" stroke="#c07020" stroke-width="0.5"/>
<circle cx="552.38" cy="92.23" r="2.2" fill="#fa9e3e" stroke="#c07020" stroke-width="0.5"/>
<circle cx="554.31" cy="92.16" r="2.2" fill="#fa9e3e" stroke="#c07020" stroke-width="0.5"/>
<circle cx="556.25" cy="92.43" r="2.2" fill="#fa9e3e" stroke="#c07020" stroke-width="0.5"/>
<circle cx="558.19" cy="92.35" r="2.2" fill="#fa9e3e" stroke="#c07020" stroke-width="0.5"/>
<circle cx="560.12" cy="92.08" r="2.2" fill="#fa9e3e" stroke="#c07020" stroke-width="0.5"/>
<circle cx="562.06" cy="91.31" r="2.2" fill="#fa9e3e" stroke="#c07020" stroke-width="0.5"/>
<circle cx="564.00" cy="92.59" r="2.2" fill="#fa9e3e" stroke="#c07020" stroke-width="0.5"/>
<circle cx="565.94" cy="92.33" r="2.2" fill="#fa9e3e" stroke="#c07020" stroke-width="0.5"/>
<circle cx="567.88" cy="92.77" r="2.2" fill="#fa9e3e" stroke="#c07020" stroke-width="0.5"/>
<circle cx="569.81" cy="91.39" r="2.2" fill="#fa9e3e" stroke="#c07020" stroke-width="0.5"/>
<circle cx="571.75" cy="92.30" r="2.2" fill="#fa9e3e" stroke="#c07020" stroke-width="0.5"/>
<circle cx="573.69" cy="92.99" r="2.2" fill="#fa9e3e" stroke="#c07020" stroke-width="0.5"/>
<circle cx="575.62" cy="92.77" r="2.2" fill="#fa9e3e" stroke="#c07020" stroke-width="0.5"/>
<circle cx="577.56" cy="93.00" r="2.2" fill="#fa9e3e" stroke="#c07020" stroke-width="0.5"/>
<circle cx="579.50" cy="91.74" r="2.2" fill="#fa9e3e" stroke="#c07020" stroke-width="0.5"/>
<circle cx="581.44" cy="93.12" r="2.2" fill="#fa9e3e" stroke="#c07020" stroke-width="0.5"/>
<circle cx="583.38" cy="93.37" r="2.2" fill="#fa9e3e" stroke="#c07020" stroke-width="0.5"/>
<circle cx="585.31" cy="91.83" r="2.2" fill="#fa9e3e" stroke="#c07020" stroke-width="0.5"/>
<circle cx="587.25" cy="92.35" r="2.2" fill="#fa9e3e" stroke="#c07020" stroke-width="0.5"/>
<line x1="471.00" y1="64.07" x2="471.00" y2="60.96" stroke="#c8c8c8" stroke-width="0.6"/>
<line x1="472.94" y1="69.72" x2="472.94" y2="66.61" stroke="#c8c8c8" stroke-width="0.6"/>
<line x1="474.88" y1="74.10" x2="474.88" y2="70.99" stroke="#c8c8c8" stroke-width="0.6"/>
<line x1="476.81" y1="76.53" x2="476.81" y2="73.42" stroke="#c8c8c8" stroke-width="0.6"/>
<line x1="478.75" y1="78.22" x2="478.75" y2="75.10" stroke="#c8c8c8" stroke-width="0.6"/>
<line x1="480.69" y1="79.34" x2="480.69" y2="76.23" stroke="#c8c8c8" stroke-width="0.6"/>
<line x1="482.62" y1="80.80" x2="482.62" y2="77.69" stroke="#c8c8c8" stroke-width="0.6"/>
<line x1="484.56" y1="81.79" x2="484.56" y2="78.67" stroke="#c8c8c8" stroke-width="0.6"/>
<line x1="486.50" y1="82.48" x2="486.50" y2="79.37" stroke="#c8c8c8" stroke-width="0.6"/>
<line x1="488.44" y1="82.36" x2="488.44" y2="79.25" stroke="#c8c8c8" stroke-width="0.6"/>
<line x1="490.38" y1="82.66" x2="490.38" y2="79.55" stroke="#c8c8c8" stroke-width="0.6"/>
<line x1="492.31" y1="83.14" x2="492.31" y2="80.03" stroke="#c8c8c8" stroke-width="0.6"/>
<line x1="494.25" y1="83.51" x2="494.25" y2="80.40" stroke="#c8c8c8" stroke-width="0.6"/>
<line x1="496.19" y1="83.53" x2="496.19" y2="80.42" stroke="#c8c8c8" stroke-width="0.6"/>
<line x1="498.12" y1="84.04" x2="498.12" y2="80.93" stroke="#c8c8c8" stroke-width="0.6"/>
<line x1="500.06" y1="84.55" x2="500.06" y2="81.44" stroke="#c8c8c8" stroke-width="0.6"/>
<line x1="502.00" y1="84.22" x2="502.00" y2="81.10" stroke="#c8c8c8" stroke-width="0.6"/>
<line x1="503.94" y1="84.20" x2="503.94" y2="81.09" stroke="#c8c8c8" stroke-width="0.6"/>
<line x1="505.88" y1="84.67" x2="505.88" y2="81.56" stroke="#c8c8c8" stroke-width="0.6"/>
<line x1="507.81" y1="85.07" x2="507.81" y2="81.96" stroke="#c8c8c8" stroke-width="0.6"/>
<line x1="509.75" y1="85.03" x2="509.75" y2="81.92" stroke="#c8c8c8" stroke-width="0.6"/>
<line x1="511.69" y1="85.19" x2="511.69" y2="82.08" stroke="#c8c8c8" stroke-width="0.6"/>
<line x1="513.62" y1="85.19" x2="513.62" y2="82.08" stroke="#c8c8c8" stroke-width="0.6"/>
<line x1="515.56" y1="85.03" x2="515.56" y2="81.92" stroke="#c8c8c8" stroke-width="0.6"/>
<line x1="517.50" y1="85.34" x2="517.50" y2="82.22" stroke="#c8c8c8" stroke-width="0.6"/>
<line x1="519.44" y1="84.99" x2="519.44" y2="81.88" stroke="#c8c8c8" stroke-width="0.6"/>
<line x1="521.38" y1="84.80" x2="521.38" y2="81.69" stroke="#c8c8c8" stroke-width="0.6"/>
<line x1="523.31" y1="85.28" x2="523.31" y2="82.17" stroke="#c8c8c8" stroke-width="0.6"/>
<line x1="525.25" y1="85.24" x2="525.25" y2="82.13" stroke="#c8c8c8" stroke-width="0.6"/>
<line x1="527.19" y1="84.76" x2="527.19" y2="81.65" stroke="#c8c8c8" stroke-width="0.6"/>
<line x1="529.12" y1="85.43" x2="529.12" y2="82.32" stroke="#c8c8c8" stroke-width="0.6"/>
<line x1="531.06" y1="85.40" x2="531.06" y2="82.29" stroke="#c8c8c8" stroke-width="0.6"/>
<line x1="533.00" y1="85.12" x2="533.00" y2="82.01" stroke="#c8c8c8" stroke-width="0.6"/>
<line x1="534.94" y1="85.62" x2="534.94" y2="82.51" stroke="#c8c8c8" stroke-width="0.6"/>
<line x1="536.88" y1="85.33" x2="536.88" y2="82.22" stroke="#c8c8c8" stroke-width="0.6"/>
<line x1="538.81" y1="84.85" x2="538.81" y2="81.74" stroke="#c8c8c8" stroke-width="0.6"/>
<line x1="540.75" y1="85.22" x2="540.75" y2="82.11" stroke="#c8c8c8" stroke-width="0.6"/>
<line x1="542.69" y1="85.10" x2="542.69" y2="81.99" stroke="#c8c8c8" stroke-width="0.6"/>
<line x1="544.62" y1="84.92" x2="544.62" y2="81.81" stroke="#c8c8c8" stroke-width="0.6"/>
<line x1="546.56" y1="84.94" x2="546.56" y2="81.83" stroke="#c8c8c8" stroke-width="0.6"/>
<line x1="548.50" y1="85.35" x2="548.50" y2="82.24" stroke="#c8c8c8" stroke-width="0.6"/>
<line x1="550.44" y1="85.59" x2="550.44" y2="82.48" stroke="#c8c8c8" stroke-width="0.6"/>
<line x1="552.38" y1="85.63" x2="552.38" y2="82.52" stroke="#c8c8c8" stroke-width="0.6"/>
<line x1="554.31" y1="85.51" x2="554.31" y2="82.40" stroke="#c8c8c8" stroke-width="0.6"/>
<line x1="556.25" y1="85.41" x2="556.25" y2="82.29" stroke="#c8c8c8" stroke-width="0.6"/>
<line x1="558.19" y1="85.69" x2="558.19" y2="82.58" stroke="#c8c8c8" stroke-width="0.6"/>
<line x1="560.12" y1="85.61" x2="560.12" y2="82.50" stroke="#c8c8c8" stroke-width="0.6"/>
<line x1="562.06" y1="85.67" x2="562.06" y2="82.56" stroke="#c8c8c8" stroke-width="0.6"/>
<line x1="564.00" y1="85.19" x2="564.00" y2="82.08" stroke="#c8c8c8" stroke-width="0.6"/>
<line x1="565.94" y1="85.49" x2="565.94" y2="82.38" stroke="#c8c8c8" stroke-width="0.6"/>
<line x1="567.88" y1="85.40" x2="567.88" y2="82.28" stroke="#c8c8c8" stroke-width="0.6"/>
<line x1="569.81" y1="84.99" x2="569.81" y2="81.88" stroke="#c8c8c8" stroke-width="0.6"/>
<line x1="571.75" y1="85.31" x2="571.75" y2="82.20" stroke="#c8c8c8" stroke-width="0.6"/>
<line x1="573.69" y1="85.63" x2="573.69" y2="82.52" stroke="#c8c8c8" stroke-width="0.6"/>
<line x1="575.62" y1="85.42" x2="575.62" y2="82.31" stroke="#c8c8c8" stroke-width="0.6"/>
<line x1="577.56" y1="85.01" x2="577.56" y2="81.90" stroke="#c8c8c8" stroke-width="0.6"/>
<line x1="579.50" y1="85.68" x2="579.50" y2="82.57" stroke="#c8c8c8" stroke-width="0.6"/>
<line x1="581.44" y1="85.26" x2="581.44" y2="82.15" stroke="#c8c8c8" stroke-width="0.6"/>
<line x1="583.38" y1="85.25" x2="583.38" y2="82.14" stroke="#c8c8c8" stroke-width="0.6"/>
<line x1="585.31" y1="85.27" x2="585.31" y2="82.15" stroke="#c8c8c8" stroke-width="0.6"/>
<line x1="587.25" y1="84.99" x2="587.25" y2="81.88" stroke="#c8c8c8" stroke-width="0.6"/>
<circle cx="432.25" cy="105.12" r="2.2" fill="#929292" stroke="#505050" stroke-width="0.55"/>
<circle cx="434.19" cy="104.85" r="2.2" fill="#929292" stroke="#505050" stroke-width="0.55"/>
<circle cx="436.12" cy="104.91" r="2.2" fill="#929292" stroke="#505050" stroke-width="0.55"/>
<circle cx="438.06" cy="105.22" r="2.2" fill="#929292" stroke="#505050" stroke-width="0.55"/>
<circle cx="440.00" cy="105.20" r="2.2" fill="#929292" stroke="#505050" stroke-width="0.55"/>
<circle cx="441.94" cy="105.15" r="2.2" fill="#929292" stroke="#505050" stroke-width="0.55"/>
<circle cx="443.88" cy="104.86" r="2.2" fill="#929292" stroke="#505050" stroke-width="0.55"/>
<circle cx="445.81" cy="105.05" r="2.2" fill="#929292" stroke="#505050" stroke-width="0.55"/>
<circle cx="447.75" cy="104.65" r="2.2" fill="#929292" stroke="#505050" stroke-width="0.55"/>
<circle cx="449.69" cy="104.66" r="2.2" fill="#929292" stroke="#505050" stroke-width="0.55"/>
<circle cx="451.62" cy="104.34" r="2.2" fill="#929292" stroke="#505050" stroke-width="0.55"/>
<circle cx="453.56" cy="104.39" r="2.2" fill="#929292" stroke="#505050" stroke-width="0.55"/>
<circle cx="455.50" cy="104.88" r="2.2" fill="#929292" stroke="#505050" stroke-width="0.55"/>
<circle cx="457.44" cy="104.73" r="2.2" fill="#929292" stroke="#505050" stroke-width="0.55"/>
<circle cx="459.38" cy="104.79" r="2.2" fill="#929292" stroke="#505050" stroke-width="0.55"/>
<circle cx="461.31" cy="104.43" r="2.2" fill="#929292" stroke="#505050" stroke-width="0.55"/>
<circle cx="463.25" cy="104.46" r="2.2" fill="#929292" stroke="#505050" stroke-width="0.55"/>
<circle cx="465.19" cy="104.78" r="2.2" fill="#929292" stroke="#505050" stroke-width="0.55"/>
<circle cx="467.12" cy="104.30" r="2.2" fill="#929292" stroke="#505050" stroke-width="0.55"/>
<circle cx="469.06" cy="104.54" r="2.2" fill="#929292" stroke="#505050" stroke-width="0.55"/>
<circle cx="471.00" cy="62.52" r="2.2" fill="#929292" stroke="#505050" stroke-width="0.55"/>
<circle cx="472.94" cy="68.17" r="2.2" fill="#929292" stroke="#505050" stroke-width="0.55"/>
<circle cx="474.88" cy="72.55" r="2.2" fill="#929292" stroke="#505050" stroke-width="0.55"/>
<circle cx="476.81" cy="74.97" r="2.2" fill="#929292" stroke="#505050" stroke-width="0.55"/>
<circle cx="478.75" cy="76.66" r="2.2" fill="#929292" stroke="#505050" stroke-width="0.55"/>
<circle cx="480.69" cy="77.79" r="2.2" fill="#929292" stroke="#505050" stroke-width="0.55"/>
<circle cx="482.62" cy="79.25" r="2.2" fill="#929292" stroke="#505050" stroke-width="0.55"/>
<circle cx="484.56" cy="80.23" r="2.2" fill="#929292" stroke="#505050" stroke-width="0.55"/>
<circle cx="486.50" cy="80.92" r="2.2" fill="#929292" stroke="#505050" stroke-width="0.55"/>
<circle cx="488.44" cy="80.80" r="2.2" fill="#929292" stroke="#505050" stroke-width="0.55"/>
<circle cx="490.38" cy="81.11" r="2.2" fill="#929292" stroke="#505050" stroke-width="0.55"/>
<circle cx="492.31" cy="81.59" r="2.2" fill="#929292" stroke="#505050" stroke-width="0.55"/>
<circle cx="494.25" cy="81.96" r="2.2" fill="#929292" stroke="#505050" stroke-width="0.55"/>
<circle cx="496.19" cy="81.98" r="2.2" fill="#929292" stroke="#505050" stroke-width="0.55"/>
<circle cx="498.12" cy="82.48" r="2.2" fill="#929292" stroke="#505050" stroke-width="0.55"/>
<circle cx="500.06" cy="83.00" r="2.2" fill="#929292" stroke="#505050" stroke-width="0.55"/>
<circle cx="502.00" cy="82.66" r="2.2" fill="#929292" stroke="#505050" stroke-width="0.55"/>
<circle cx="503.94" cy="82.64" r="2.2" fill="#929292" stroke="#505050" stroke-width="0.55"/>
<circle cx="505.88" cy="83.11" r="2.2" fill="#929292" stroke="#505050" stroke-width="0.55"/>
<circle cx="507.81" cy="83.51" r="2.2" fill="#929292" stroke="#505050" stroke-width="0.55"/>
<circle cx="509.75" cy="83.47" r="2.2" fill="#929292" stroke="#505050" stroke-width="0.55"/>
<circle cx="511.69" cy="83.64" r="2.2" fill="#929292" stroke="#505050" stroke-width="0.55"/>
<circle cx="513.62" cy="83.64" r="2.2" fill="#929292" stroke="#505050" stroke-width="0.55"/>
<circle cx="515.56" cy="83.48" r="2.2" fill="#929292" stroke="#505050" stroke-width="0.55"/>
<circle cx="517.50" cy="83.78" r="2.2" fill="#929292" stroke="#505050" stroke-width="0.55"/>
<circle cx="519.44" cy="83.43" r="2.2" fill="#929292" stroke="#505050" stroke-width="0.55"/>
<circle cx="521.38" cy="83.24" r="2.2" fill="#929292" stroke="#505050" stroke-width="0.55"/>
<circle cx="523.31" cy="83.72" r="2.2" fill="#929292" stroke="#505050" stroke-width="0.55"/>
<circle cx="525.25" cy="83.68" r="2.2" fill="#929292" stroke="#505050" stroke-width="0.55"/>
<circle cx="527.19" cy="83.21" r="2.2" fill="#929292" stroke="#505050" stroke-width="0.55"/>
<circle cx="529.12" cy="83.88" r="2.2" fill="#929292" stroke="#505050" stroke-width="0.55"/>
<circle cx="531.06" cy="83.84" r="2.2" fill="#929292" stroke="#505050" stroke-width="0.55"/>
<circle cx="533.00" cy="83.56" r="2.2" fill="#929292" stroke="#505050" stroke-width="0.55"/>
<circle cx="534.94" cy="84.06" r="2.2" fill="#929292" stroke="#505050" stroke-width="0.55"/>
<circle cx="536.88" cy="83.77" r="2.2" fill="#929292" stroke="#505050" stroke-width="0.55"/>
<circle cx="538.81" cy="83.30" r="2.2" fill="#929292" stroke="#505050" stroke-width="0.55"/>
<circle cx="540.75" cy="83.67" r="2.2" fill="#929292" stroke="#505050" stroke-width="0.55"/>
<circle cx="542.69" cy="83.54" r="2.2" fill="#929292" stroke="#505050" stroke-width="0.55"/>
<circle cx="544.62" cy="83.36" r="2.2" fill="#929292" stroke="#505050" stroke-width="0.55"/>
<circle cx="546.56" cy="83.39" r="2.2" fill="#929292" stroke="#505050" stroke-width="0.55"/>
<circle cx="548.50" cy="83.79" r="2.2" fill="#929292" stroke="#505050" stroke-width="0.55"/>
<circle cx="550.44" cy="84.04" r="2.2" fill="#929292" stroke="#505050" stroke-width="0.55"/>
<circle cx="552.38" cy="84.08" r="2.2" fill="#929292" stroke="#505050" stroke-width="0.55"/>
<circle cx="554.31" cy="83.96" r="2.2" fill="#929292" stroke="#505050" stroke-width="0.55"/>
<circle cx="556.25" cy="83.85" r="2.2" fill="#929292" stroke="#505050" stroke-width="0.55"/>
<circle cx="558.19" cy="84.13" r="2.2" fill="#929292" stroke="#505050" stroke-width="0.55"/>
<circle cx="560.12" cy="84.05" r="2.2" fill="#929292" stroke="#505050" stroke-width="0.55"/>
<circle cx="562.06" cy="84.12" r="2.2" fill="#929292" stroke="#505050" stroke-width="0.55"/>
<circle cx="564.00" cy="83.63" r="2.2" fill="#929292" stroke="#505050" stroke-width="0.55"/>
<circle cx="565.94" cy="83.93" r="2.2" fill="#929292" stroke="#505050" stroke-width="0.55"/>
<circle cx="567.88" cy="83.84" r="2.2" fill="#929292" stroke="#505050" stroke-width="0.55"/>
<circle cx="569.81" cy="83.44" r="2.2" fill="#929292" stroke="#505050" stroke-width="0.55"/>
<circle cx="571.75" cy="83.76" r="2.2" fill="#929292" stroke="#505050" stroke-width="0.55"/>
<circle cx="573.69" cy="84.07" r="2.2" fill="#929292" stroke="#505050" stroke-width="0.55"/>
<circle cx="575.62" cy="83.86" r="2.2" fill="#929292" stroke="#505050" stroke-width="0.55"/>
<circle cx="577.56" cy="83.46" r="2.2" fill="#929292" stroke="#505050" stroke-width="0.55"/>
<circle cx="579.50" cy="84.13" r="2.2" fill="#929292" stroke="#505050" stroke-width="0.55"/>
<circle cx="581.44" cy="83.71" r="2.2" fill="#929292" stroke="#505050" stroke-width="0.55"/>
<circle cx="583.38" cy="83.70" r="2.2" fill="#929292" stroke="#505050" stroke-width="0.55"/>
<circle cx="585.31" cy="83.71" r="2.2" fill="#929292" stroke="#505050" stroke-width="0.55"/>
<circle cx="587.25" cy="83.43" r="2.2" fill="#929292" stroke="#505050" stroke-width="0.55"/>
<path d="M471.4,108.2 L474.0,114.6 L468.8,114.6 Z" fill="#000"/>
<text x="471.40" y="124.30" font-size="8" text-anchor="middle" font-weight="bold" textLength="15.90" lengthAdjust="spacingAndGlyphs">HFS</text>
<circle cx="440.90" cy="28.20" r="3.0" fill="#929292" stroke="#333333" stroke-width="0.7"/>
<circle cx="440.90" cy="37.60" r="3.0" fill="#fa9e3e" stroke="#333333" stroke-width="0.7"/>
<text x="446.70" y="31.70" font-size="9.5">WT</text>
<text x="446.70" y="41.10" font-size="9.5" textLength="58.50" lengthAdjust="spacingAndGlyphs">GolpHCat KO</text>
<path d="M523.7,26.0 L526.0,25.6 L526.4,45.7 L526.8,27 L528.6,36 L529.8,40.5 C531,36 534,31.5 538,28.8 C541,27.2 544,26.4 547.2,26.2" fill="none" stroke="#a0a0a0" stroke-width="0.9"/>
<path d="M526.8,27.5 L528.8,37 L529.9,39.5 C531.5,35 534.5,30.6 538.5,28.4 C541.5,27 544.5,26.3 547.2,26.1" fill="none" stroke="#333" stroke-width="0.7"/>
<path d="M554.9,26.2 L557.6,25.8 L557.9,46.7 L558.3,27 L559.6,35 L560.5,39.5 C562,35.5 565,31 569,28.7 C572,27.2 575.5,26.5 578.9,26.4" fill="none" stroke="#f7a040" stroke-width="0.9"/>
<path d="M558.4,27.5 L559.8,36 L560.6,38.5 C562.3,34.5 565.2,30.2 569.2,28.3 C572.2,27 575.5,26.3 578.9,26.2" fill="none" stroke="#6a4a2a" stroke-width="0.5"/>
<path d="M573.0,44.6 L578.9,44.6 L578.9,38.3" fill="none" stroke="#555" stroke-width="0.8"/>
<!-- panel_e -->
<text x="596.50" y="14.60" font-size="16">e</text>
<line x1="640.50" y1="26.00" x2="640.50" y2="130.10" stroke="#474747" stroke-width="0.9"/>
<line x1="638.00" y1="130.10" x2="640.50" y2="130.10" stroke="#474747" stroke-width="0.9"/>
<text x="636.60" y="133.50" font-size="9.5" text-anchor="end">50</text>
<line x1="638.00" y1="95.44" x2="640.50" y2="95.44" stroke="#474747" stroke-width="0.9"/>
<text x="636.60" y="98.84" font-size="9.5" text-anchor="end">100</text>
<line x1="638.00" y1="60.77" x2="640.50" y2="60.77" stroke="#474747" stroke-width="0.9"/>
<text x="636.60" y="64.17" font-size="9.5" text-anchor="end">150</text>
<line x1="638.00" y1="26.10" x2="640.50" y2="26.10" stroke="#474747" stroke-width="0.9"/>
<text x="636.60" y="29.50" font-size="9.5" text-anchor="end">200</text>
<line x1="640.50" y1="130.10" x2="683.80" y2="130.10" stroke="#474747" stroke-width="0.9"/>
<line x1="653.30" y1="130.10" x2="653.30" y2="132.60" stroke="#474747" stroke-width="0.9"/>
<text x="653.30" y="144.00" font-size="9.5" text-anchor="middle">WT</text>
<line x1="671.30" y1="130.10" x2="671.30" y2="132.60" stroke="#474747" stroke-width="0.9"/>
<text x="671.30" y="144.00" font-size="9.5" text-anchor="middle">KO</text>
<text x="616.60" y="80.30" font-size="9" text-anchor="middle" textLength="114.00" lengthAdjust="spacingAndGlyphs" transform="rotate(-90 616.60 80.30)">fEPSP slope (% baseline)</text>
<line x1="640.50" y1="95.44" x2="684.50" y2="95.44" stroke="#888" stroke-width="0.7" stroke-dasharray="1.6 1.2"/>
<rect x="647.40" y="67.01" width="11.90" height="63.09" fill="#a5a5a8" stroke="#333" stroke-width="0.8"/>
<rect x="665.40" y="80.18" width="11.80" height="49.92" fill="#fa9e3e" stroke="#333" stroke-width="0.8"/>
<line x1="653.30" y1="62.16" x2="653.30" y2="67.01" stroke="#222" stroke-width="0.8"/>
<line x1="651.60" y1="62.16" x2="655.00" y2="62.16" stroke="#222" stroke-width="0.8"/>
<line x1="651.60" y1="67.01" x2="655.00" y2="67.01" stroke="#222" stroke-width="0.8"/>
<line x1="671.30" y1="75.81" x2="671.30" y2="80.18" stroke="#222" stroke-width="0.8"/>
<line x1="669.60" y1="75.81" x2="673.00" y2="75.81" stroke="#222" stroke-width="0.8"/>
<line x1="669.60" y1="80.18" x2="673.00" y2="80.18" stroke="#222" stroke-width="0.8"/>
<line x1="640.50" y1="95.44" x2="684.50" y2="95.44" stroke="#777" stroke-width="0.6" stroke-dasharray="1.6 1.2" opacity="0.6"/>
<circle cx="653.10" cy="42.30" r="1.05" fill="#000"/>
<circle cx="649.10" cy="60.00" r="1.05" fill="#000"/>
<circle cx="654.30" cy="61.80" r="1.05" fill="#000"/>
<circle cx="656.80" cy="64.50" r="1.05" fill="#000"/>
<circle cx="649.10" cy="71.30" r="1.05" fill="#000"/>
<circle cx="656.80" cy="72.30" r="1.05" fill="#000"/>
<circle cx="652.30" cy="68.00" r="1.05" fill="#000"/>
<circle cx="655.80" cy="77.00" r="1.05" fill="#000"/>
<circle cx="653.10" cy="87.50" r="1.05" fill="#000"/>
<circle cx="671.10" cy="54.10" r="1.05" fill="#000"/>
<circle cx="671.10" cy="65.20" r="1.05" fill="#000"/>
<circle cx="668.20" cy="72.30" r="1.05" fill="#000"/>
<circle cx="675.90" cy="71.50" r="1.05" fill="#000"/>
<circle cx="672.80" cy="73.30" r="1.05" fill="#000"/>
<circle cx="666.70" cy="82.80" r="1.05" fill="#000"/>
<circle cx="671.10" cy="83.20" r="1.05" fill="#000"/>
<circle cx="675.60" cy="82.50" r="1.05" fill="#000"/>
<circle cx="671.10" cy="87.50" r="1.05" fill="#000"/>
<circle cx="671.10" cy="97.10" r="1.05" fill="#000"/>
<circle cx="671.10" cy="107.60" r="1.05" fill="#000"/>
<path d="M653.30,34.10 L653.30,27.40 L671.50,27.40 L671.50,47.50" fill="none" stroke="#777" stroke-width="0.8"/>
<text x="644.00" y="20.70" font-size="9.20" style="stroke-width:0.1px" textLength="38.20" lengthAdjust="spacingAndGlyphs">*<tspan font-style="italic">P</tspan>=0.0239</text>
<!-- panel_f -->
<text x="2.40" y="179.80" font-size="16">f</text>
<text x="20.60" y="191.40" font-size="9.5" textLength="128.80" lengthAdjust="spacingAndGlyphs">Novel place recognition (NPR)</text>
<path d="M27.9,197.4 L77.8,197.4 L74.3,201.2 L31.6,201.2 Z" fill="#d4d4d4"/>
<path d="M27.9,197.4 L31.6,201.2 L31.6,243.6 L27.9,247.0 Z" fill="#f4f4f4"/>
<path d="M77.8,197.4 L77.8,247.0 L74.3,243.6 L74.3,201.2 Z" fill="#7c7c7c"/>
<path d="M27.9,247.0 L77.8,247.0 L74.3,243.6 L31.6,243.6 Z" fill="#a4a4a4"/>
<rect x="31.60" y="201.20" width="42.70" height="42.40" fill="#f1f0ee" stroke="#3c3c3c" stroke-width="0.9"/>
<line x1="27.90" y1="197.40" x2="31.60" y2="201.20" stroke="#444" stroke-width="0.6"/>
<line x1="77.80" y1="197.40" x2="74.30" y2="201.20" stroke="#444" stroke-width="0.6"/>
<line x1="27.90" y1="247.00" x2="31.60" y2="243.60" stroke="#444" stroke-width="0.6"/>
<line x1="77.80" y1="247.00" x2="74.30" y2="243.60" stroke="#444" stroke-width="0.6"/>
<path d="M106.1,197.2 L156.0,197.2 L152.6,201.0 L109.4,201.0 Z" fill="#d4d4d4"/>
<path d="M106.1,197.2 L109.4,201.0 L109.4,243.3 L106.1,246.7 Z" fill="#f4f4f4"/>
<path d="M156.0,197.2 L156.0,246.7 L152.6,243.3 L152.6,201.0 Z" fill="#7c7c7c"/>
<path d="M106.1,246.7 L156.0,246.7 L152.6,243.3 L109.4,243.3 Z" fill="#a4a4a4"/>
<rect x="109.40" y="201.00" width="43.20" height="42.30" fill="#f1f0ee" stroke="#3c3c3c" stroke-width="0.9"/>
<line x1="106.10" y1="197.20" x2="109.40" y2="201.00" stroke="#444" stroke-width="0.6"/>
<line x1="156.00" y1="197.20" x2="152.60" y2="201.00" stroke="#444" stroke-width="0.6"/>
<line x1="106.10" y1="246.70" x2="109.40" y2="243.30" stroke="#444" stroke-width="0.6"/>
<line x1="156.00" y1="246.70" x2="152.60" y2="243.30" stroke="#444" stroke-width="0.6"/>
<path d="M38.80,209.50 L39.20,213.90 C40.10,214.80 45.10,214.80 46.00,213.90 L46.40,209.50" fill="#fff" stroke="#777" stroke-width="0.6"/>
<ellipse cx="42.60" cy="209.50" rx="3.8" ry="1.3" fill="#bdbdbd" stroke="#666" stroke-width="0.6"/>
<line x1="39.00" y1="211.30" x2="46.20" y2="211.30" stroke="#999" stroke-width="0.4"/>
<path d="M59.30,209.50 L59.70,213.90 C60.60,214.80 65.60,214.80 66.50,213.90 L66.90,209.50" fill="#fff" stroke="#777" stroke-width="0.6"/>
<ellipse cx="63.10" cy="209.50" rx="3.8" ry="1.3" fill="#bdbdbd" stroke="#666" stroke-width="0.6"/>
<line x1="59.50" y1="211.30" x2="66.70" y2="211.30" stroke="#999" stroke-width="0.4"/>
<path d="M117.20,209.50 L117.60,213.90 C118.50,214.80 123.50,214.80 124.40,213.90 L124.80,209.50" fill="#fff" stroke="#777" stroke-width="0.6"/>
<ellipse cx="121.00" cy="209.50" rx="3.8" ry="1.3" fill="#bdbdbd" stroke="#666" stroke-width="0.6"/>
<line x1="117.40" y1="211.30" x2="124.60" y2="211.30" stroke="#999" stroke-width="0.4"/>
<path d="M137.60,230.40 L138.00,234.80 C138.90,235.70 143.90,235.70 144.80,234.80 L145.20,230.40" fill="#fff" stroke="#777" stroke-width="0.6"/>
<ellipse cx="141.40" cy="230.40" rx="3.8" ry="1.3" fill="#bdbdbd" stroke="#666" stroke-width="0.6"/>
<line x1="137.80" y1="232.20" x2="145.00" y2="232.20" stroke="#999" stroke-width="0.4"/>
<ellipse cx="66.4" cy="217.6" rx="1.6" ry="2.4" fill="#444" transform="rotate(-20 66.4 217.6)"/>
<path d="M66.5,216 L65.6,214.8 M67.6,216 L68.2,215" fill="none" stroke="#555" stroke-width="0.5"/>
<path d="M67.0,219.8 C67.4,222 68.4,224 69.4,226.8" fill="none" stroke="#666" stroke-width="0.5"/>
<ellipse cx="134.2" cy="233.8" rx="2.6" ry="1.5" fill="#444"/>
<path d="M131.8,233.6 C130.5,233.6 129.8,232.4 128.4,230.6" fill="none" stroke="#666" stroke-width="0.5"/>
<line x1="81.10" y1="221.90" x2="98.50" y2="221.90" stroke="#000" stroke-width="1.2"/>
<path d="M103.0,221.9 L97.4,219.3 L97.4,224.5 Z" fill="#000"/>
<text x="89.80" y="219.40" font-size="9.0" text-anchor="middle" textLength="8.80" lengthAdjust="spacingAndGlyphs">1h</text>
<text x="20.60" y="260.20" font-size="9.5" textLength="64.50" lengthAdjust="spacingAndGlyphs">Contextual fear</text>
<path d="M28.2,276.7 L40.6,265.6 L77.8,265.6 L77.8,303.8 L67.6,314.9 L28.2,314.9 Z" fill="#c3c3c3"/>
<clipPath id="fl1"><path d="M28.2,314.9 L67.6,314.9 L77.8,303.8 L40.6,303.8 Z"/></clipPath>
<g clip-path="url(#fl1)">
<path d="M28.2,314.9 L67.6,314.9 L77.8,303.8 L40.6,303.8 Z" fill="#a4a4a4"/>
<line x1="18.20" y1="315.40" x2="27.20" y2="303.30" stroke="#f6f6f6" stroke-width="2.2"/>
<line x1="22.80" y1="315.40" x2="31.80" y2="303.30" stroke="#f6f6f6" stroke-width="2.2"/>
<line x1="27.40" y1="315.40" x2="36.40" y2="303.30" stroke="#f6f6f6" stroke-width="2.2"/>
<line x1="32.00" y1="315.40" x2="41.00" y2="303.30" stroke="#f6f6f6" stroke-width="2.2"/>
<line x1="36.60" y1="315.40" x2="45.60" y2="303.30" stroke="#f6f6f6" stroke-width="2.2"/>
<line x1="41.20" y1="315.40" x2="50.20" y2="303.30" stroke="#f6f6f6" stroke-width="2.2"/>
<line x1="45.80" y1="315.40" x2="54.80" y2="303.30" stroke="#f6f6f6" stroke-width="2.2"/>
<line x1="50.40" y1="315.40" x2="59.40" y2="303.30" stroke="#f6f6f6" stroke-width="2.2"/>
<line x1="55.00" y1="315.40" x2="64.00" y2="303.30" stroke="#f6f6f6" stroke-width="2.2"/>
<line x1="59.60" y1="315.40" x2="68.60" y2="303.30" stroke="#f6f6f6" stroke-width="2.2"/>
<line x1="64.20" y1="315.40" x2="73.20" y2="303.30" stroke="#f6f6f6" stroke-width="2.2"/>
<line x1="68.80" y1="315.40" x2="77.80" y2="303.30" stroke="#f6f6f6" stroke-width="2.2"/>
<line x1="73.40" y1="315.40" x2="82.40" y2="303.30" stroke="#f6f6f6" stroke-width="2.2"/>
<line x1="78.00" y1="315.40" x2="87.00" y2="303.30" stroke="#f6f6f6" stroke-width="2.2"/>
<line x1="82.60" y1="315.40" x2="91.60" y2="303.30" stroke="#f6f6f6" stroke-width="2.2"/>
</g>
<line x1="40.60" y1="265.60" x2="40.60" y2="303.80" stroke="#4a4a4a" stroke-width="0.8"/>
<line x1="40.60" y1="303.80" x2="77.80" y2="303.80" stroke="#4a4a4a" stroke-width="0.8"/>
<line x1="28.20" y1="314.90" x2="40.60" y2="303.80" stroke="#4a4a4a" stroke-width="0.8"/>
<path d="M28.2,276.7 L67.6,276.7 L67.6,314.9 L28.2,314.9 Z" fill="none" stroke="#4a4a4a" stroke-width="0.8"/>
<path d="M28.2,276.7 L40.6,265.6 L77.8,265.6 L67.6,276.7" fill="none" stroke="#4a4a4a" stroke-width="0.8"/>
<path d="M77.8,265.6 L77.8,303.8 L67.6,314.9" fill="none" stroke="#4a4a4a" stroke-width="0.8"/>
<path d="M106.4,276.3 L118.5,265.3 L156.0,265.3 L156.0,303.0 L144.7,314.6 L106.4,314.6 Z" fill="#c3c3c3"/>
<clipPath id="fl2"><path d="M106.4,314.6 L144.7,314.6 L156.0,303.0 L118.5,303.0 Z"/></clipPath>
<g clip-path="url(#fl2)">
<path d="M106.4,314.6 L144.7,314.6 L156.0,303.0 L118.5,303.0 Z" fill="#a4a4a4"/>
<line x1="96.40" y1="315.10" x2="105.40" y2="302.50" stroke="#f6f6f6" stroke-width="2.2"/>
<line x1="101.00" y1="315.10" x2="110.00" y2="302.50" stroke="#f6f6f6" stroke-width="2.2"/>
<line x1="105.60" y1="315.10" x2="114.60" y2="302.50" stroke="#f6f6f6" stroke-width="2.2"/>
<line x1="110.20" y1="315.10" x2="119.20" y2="302.50" stroke="#f6f6f6" stroke-width="2.2"/>
<line x1="114.80" y1="315.10" x2="123.80" y2="302.50" stroke="#f6f6f6" stroke-width="2.2"/>
<line x1="119.40" y1="315.10" x2="128.40" y2="302.50" stroke="#f6f6f6" stroke-width="2.2"/>
<line x1="124.00" y1="315.10" x2="133.00" y2="302.50" stroke="#f6f6f6" stroke-width="2.2"/>
<line x1="128.60" y1="315.10" x2="137.60" y2="302.50" stroke="#f6f6f6" stroke-width="2.2"/>
<line x1="133.20" y1="315.10" x2="142.20" y2="302.50" stroke="#f6f6f6" stroke-width="2.2"/>
<line x1="137.80" y1="315.10" x2="146.80" y2="302.50" stroke="#f6f6f6" stroke-width="2.2"/>
<line x1="142.40" y1="315.10" x2="151.40" y2="302.50" stroke="#f6f6f6" stroke-width="2.2"/>
<line x1="147.00" y1="315.10" x2="156.00" y2="302.50" stroke="#f6f6f6" stroke-width="2.2"/>
<line x1="151.60" y1="315.10" x2="160.60" y2="302.50" stroke="#f6f6f6" stroke-width="2.2"/>
<line x1="156.20" y1="315.10" x2="165.20" y2="302.50" stroke="#f6f6f6" stroke-width="2.2"/>
<line x1="160.80" y1="315.10" x2="169.80" y2="302.50" stroke="#f6f6f6" stroke-width="2.2"/>
</g>
<line x1="118.50" y1="265.30" x2="118.50" y2="303.00" stroke="#4a4a4a" stroke-width="0.8"/>
<line x1="118.50" y1="303.00" x2="156.00" y2="303.00" stroke="#4a4a4a" stroke-width="0.8"/>
<line x1="106.40" y1="314.60" x2="118.50" y2="303.00" stroke="#4a4a4a" stroke-width="0.8"/>
<path d="M106.4,276.3 L144.7,276.3 L144.7,314.6 L106.4,314.6 Z" fill="none" stroke="#4a4a4a" stroke-width="0.8"/>
<path d="M106.4,276.3 L118.5,265.3 L156.0,265.3 L144.7,276.3" fill="none" stroke="#4a4a4a" stroke-width="0.8"/>
<path d="M156.0,265.3 L156.0,303.0 L144.7,314.6" fill="none" stroke="#4a4a4a" stroke-width="0.8"/>
<path d="M40.60,307.20 C41.60,303.20 46.60,301.00 50.60,301.60 C54.60,302.20 57.10,304.40 59.10,306.00 C57.60,307.50 54.60,307.80 50.60,307.80 C46.60,307.80 42.60,307.80 40.60,307.20 Z" fill="#555" stroke="#333" stroke-width="0.4"/>
<ellipse cx="47.10" cy="304.00" rx="1.1" ry="1.5" fill="none" stroke="#888" stroke-width="0.4"/>
<path d="M58.90,305.80 L60.10,305.40" fill="none" stroke="#eee" stroke-width="0.8"/>
<path d="M118.50,307.90 C119.50,303.90 124.50,301.70 128.50,302.30 C132.50,302.90 135.00,305.10 137.00,306.70 C135.50,308.20 132.50,308.50 128.50,308.50 C124.50,308.50 120.50,308.50 118.50,307.90 Z" fill="#555" stroke="#333" stroke-width="0.4"/>
<ellipse cx="125.00" cy="304.70" rx="1.1" ry="1.5" fill="none" stroke="#888" stroke-width="0.4"/>
<path d="M136.80,306.50 L138.00,306.10" fill="none" stroke="#eee" stroke-width="0.8"/>
<path d="M59.0,304.0 C59.2,301.5 60.0,299.2 61.2,298.6 C62,298.2 62.8,298.4 63.2,298.8" fill="none" stroke="#777" stroke-width="0.6"/>
<path d="M138.3,304.3 C138.5,301.5 139.3,299.0 140.3,298.3 C141,297.8 141.6,298 142,298.4" fill="none" stroke="#777" stroke-width="0.6"/>
<path d="M51.5,289.4 L48.9,294.6 L50.6,294.6 L49.3,298.8 L52.6,292.8 L50.8,292.8 L52.4,289.4 Z" fill="#f4b41a" stroke="#c08a10" stroke-width="0.3"/>
<line x1="81.10" y1="289.90" x2="98.50" y2="289.90" stroke="#000" stroke-width="1.2"/>
<path d="M103.0,289.9 L97.4,287.3 L97.4,292.5 Z" fill="#000"/>
<text x="89.60" y="286.70" font-size="9.0" text-anchor="middle" textLength="13.60" lengthAdjust="spacingAndGlyphs">24h</text>
<text x="21.80" y="325.50" font-size="9.5" textLength="58.70" lengthAdjust="spacingAndGlyphs">0.5 mA, 2 sec</text>
<!-- panel_g -->
<text x="194.40" y="179.80" font-size="16">g</text>
<line x1="238.20" y1="212.22" x2="238.20" y2="300.60" stroke="#474747" stroke-width="0.9"/>
<line x1="235.70" y1="300.60" x2="238.20" y2="300.60" stroke="#474747" stroke-width="0.9"/>
<text x="234.30" y="304.00" font-size="9.5" text-anchor="end">0</text>
<line x1="235.70" y1="271.24" x2="238.20" y2="271.24" stroke="#474747" stroke-width="0.9"/>
<text x="234.30" y="274.64" font-size="9.5" text-anchor="end">20</text>
<line x1="235.70" y1="241.88" x2="238.20" y2="241.88" stroke="#474747" stroke-width="0.9"/>
<text x="234.30" y="245.28" font-size="9.5" text-anchor="end">40</text>
<line x1="235.70" y1="212.52" x2="238.20" y2="212.52" stroke="#474747" stroke-width="0.9"/>
<text x="234.30" y="215.92" font-size="9.5" text-anchor="end">60</text>
<line x1="238.20" y1="300.60" x2="344.30" y2="300.60" stroke="#474747" stroke-width="0.9"/>
<rect x="246.40" y="285.19" width="14.40" height="15.41" fill="#a5a5a8" stroke="#2a2a2a" stroke-width="0.8"/>
<rect x="267.50" y="271.24" width="14.70" height="29.36" fill="url(#hg)" stroke="#2a2a2a" stroke-width="0.8"/>
<rect x="301.60" y="270.21" width="14.90" height="30.39" fill="#fa9e3e" stroke="#2a2a2a" stroke-width="0.8"/>
<rect x="323.10" y="275.64" width="14.60" height="24.96" fill="url(#ho)" stroke="#2a2a2a" stroke-width="0.8"/>
<line x1="253.60" y1="285.19" x2="253.60" y2="281.80" stroke="#555" stroke-width="0.8"/>
<line x1="249.80" y1="281.80" x2="257.40" y2="281.80" stroke="#555" stroke-width="0.8"/>
<circle cx="253.50" cy="270.90" r="1.05" fill="#000"/>
<circle cx="253.50" cy="275.80" r="1.05" fill="#000"/>
<circle cx="251.30" cy="278.30" r="1.05" fill="#000"/>
<circle cx="255.50" cy="279.90" r="1.05" fill="#000"/>
<circle cx="251.30" cy="286.90" r="1.05" fill="#000"/>
<circle cx="255.50" cy="287.20" r="1.05" fill="#000"/>
<circle cx="253.50" cy="290.30" r="1.05" fill="#000"/>
<circle cx="251.70" cy="299.60" r="1.05" fill="#000"/>
<circle cx="255.50" cy="298.60" r="1.05" fill="#000"/>
<line x1="274.85" y1="271.24" x2="274.85" y2="265.00" stroke="#555" stroke-width="0.8"/>
<line x1="271.05" y1="265.00" x2="278.65" y2="265.00" stroke="#555" stroke-width="0.8"/>
<circle cx="273.10" cy="246.40" r="1.05" fill="#000"/>
<circle cx="277.00" cy="245.70" r="1.05" fill="#000"/>
<circle cx="274.90" cy="258.50" r="1.05" fill="#000"/>
<circle cx="272.90" cy="276.00" r="1.05" fill="#000"/>
<circle cx="276.80" cy="277.30" r="1.05" fill="#000"/>
<circle cx="274.90" cy="280.80" r="1.05" fill="#000"/>
<circle cx="272.90" cy="296.30" r="1.05" fill="#000"/>
<circle cx="276.80" cy="296.00" r="1.05" fill="#000"/>
<line x1="309.05" y1="270.21" x2="309.05" y2="262.20" stroke="#555" stroke-width="0.8"/>
<line x1="305.25" y1="262.20" x2="312.85" y2="262.20" stroke="#555" stroke-width="0.8"/>
<circle cx="309.20" cy="228.60" r="1.05" fill="#000"/>
<circle cx="309.20" cy="246.40" r="1.05" fill="#000"/>
<circle cx="309.20" cy="258.00" r="1.05" fill="#000"/>
<circle cx="309.20" cy="261.80" r="1.05" fill="#000"/>
<circle cx="309.20" cy="280.00" r="1.05" fill="#000"/>
<circle cx="309.20" cy="283.40" r="1.05" fill="#000"/>
<circle cx="309.20" cy="286.30" r="1.05" fill="#000"/>
<circle cx="309.20" cy="289.20" r="1.05" fill="#000"/>
<circle cx="309.20" cy="297.20" r="1.05" fill="#000"/>
<line x1="330.40" y1="275.64" x2="330.40" y2="269.50" stroke="#555" stroke-width="0.8"/>
<line x1="326.60" y1="269.50" x2="334.20" y2="269.50" stroke="#555" stroke-width="0.8"/>
<circle cx="330.50" cy="238.70" r="1.05" fill="#000"/>
<circle cx="330.50" cy="255.80" r="1.05" fill="#000"/>
<circle cx="330.50" cy="264.60" r="1.05" fill="#000"/>
<circle cx="326.60" cy="286.00" r="1.05" fill="#000"/>
<circle cx="330.80" cy="287.00" r="1.05" fill="#000"/>
<circle cx="334.60" cy="285.70" r="1.05" fill="#000"/>
<circle cx="331.40" cy="290.80" r="1.05" fill="#000"/>
<circle cx="331.00" cy="296.60" r="1.05" fill="#000"/>
<path d="M253.60,257.00 L253.60,220.70 L274.90,220.70 L274.90,235.00" fill="none" stroke="#777" stroke-width="0.8"/>
<path d="M309.20,224.00 L309.20,220.70 L330.40,220.70 L330.40,233.20" fill="none" stroke="#777" stroke-width="0.8"/>
<text x="243.90" y="214.90" font-size="9.20" style="stroke-width:0.1px" textLength="40.70" lengthAdjust="spacingAndGlyphs">**<tspan font-style="italic">P</tspan>=0.0024</text>
<text x="320.20" y="214.90" font-size="9.5" text-anchor="middle">ns</text>
<text x="263.80" y="313.60" font-size="9.5" text-anchor="middle">WT</text>
<text x="320.50" y="313.60" font-size="9.5" text-anchor="middle" textLength="41.80" lengthAdjust="spacingAndGlyphs">GolpHCat</text>
<text x="320.70" y="325.00" font-size="9.5" text-anchor="middle">KO</text>
<rect x="240.20" y="185.50" width="7.30" height="6.40" fill="#a5a5a8" stroke="#333" stroke-width="0.6"/>
<rect x="248.30" y="185.50" width="7.30" height="6.40" fill="#fa9e3e" stroke="#333" stroke-width="0.6"/>
<rect x="240.20" y="193.90" width="7.30" height="6.40" fill="#a5a5a8" stroke="#333" stroke-width="0.6"/>
<line x1="240.80" y1="199.70" x2="246.90" y2="194.50" stroke="#111" stroke-width="0.9"/>
<rect x="248.30" y="193.90" width="7.30" height="6.40" fill="#fa9e3e" stroke="#333" stroke-width="0.6"/>
<line x1="248.90" y1="199.70" x2="255.00" y2="194.50" stroke="#111" stroke-width="0.9"/>
<text x="259.40" y="191.90" font-size="9.5" textLength="67.90" lengthAdjust="spacingAndGlyphs">Familiar location</text>
<text x="259.40" y="200.30" font-size="9.5" textLength="58.60" lengthAdjust="spacingAndGlyphs">Novel location</text>
<text x="215.00" y="259.00" font-size="9" text-anchor="middle" textLength="109.60" lengthAdjust="spacingAndGlyphs" transform="rotate(-90 215.00 259.00)">Total exploration time (s)</text>
<!-- panel_h -->
<text x="357.20" y="179.80" font-size="16">h</text>
<line x1="410.40" y1="194.58" x2="410.40" y2="276.36" stroke="#474747" stroke-width="0.9"/>
<line x1="407.90" y1="194.88" x2="410.40" y2="194.88" stroke="#474747" stroke-width="0.9"/>
<text x="406.50" y="198.28" font-size="9.5" text-anchor="end">80</text>
<line x1="407.90" y1="208.46" x2="410.40" y2="208.46" stroke="#474747" stroke-width="0.9"/>
<text x="406.50" y="211.86" font-size="9.5" text-anchor="end">60</text>
<line x1="407.90" y1="222.04" x2="410.40" y2="222.04" stroke="#474747" stroke-width="0.9"/>
<text x="406.50" y="225.44" font-size="9.5" text-anchor="end">40</text>
<line x1="407.90" y1="235.62" x2="410.40" y2="235.62" stroke="#474747" stroke-width="0.9"/>
<text x="406.50" y="239.02" font-size="9.5" text-anchor="end">20</text>
<line x1="407.90" y1="249.20" x2="410.40" y2="249.20" stroke="#474747" stroke-width="0.9"/>
<text x="406.50" y="252.60" font-size="9.5" text-anchor="end">0</text>
<line x1="407.90" y1="262.78" x2="410.40" y2="262.78" stroke="#474747" stroke-width="0.9"/>
<text x="406.50" y="266.18" font-size="9.5" text-anchor="end">-20</text>
<line x1="407.90" y1="276.36" x2="410.40" y2="276.36" stroke="#474747" stroke-width="0.9"/>
<text x="406.50" y="279.76" font-size="9.5" text-anchor="end">-40</text>
<line x1="410.40" y1="276.36" x2="461.00" y2="276.36" stroke="#474747" stroke-width="0.9"/>
<line x1="424.30" y1="276.36" x2="424.30" y2="278.86" stroke="#474747" stroke-width="0.9"/>
<line x1="446.10" y1="276.36" x2="446.10" y2="278.86" stroke="#474747" stroke-width="0.9"/>
<rect x="417.30" y="226.11" width="14.60" height="23.09" fill="#a5a5a8" stroke="#2a2a2a" stroke-width="0.8"/>
<rect x="439.10" y="249.20" width="13.50" height="4.75" fill="#fa9e3e" stroke="#2a2a2a" stroke-width="0.8"/>
<line x1="410.40" y1="249.20" x2="461.00" y2="249.20" stroke="#555" stroke-width="1.0"/>
<line x1="424.60" y1="226.11" x2="424.60" y2="222.30" stroke="#333" stroke-width="0.8"/>
<line x1="421.60" y1="222.30" x2="427.60" y2="222.30" stroke="#333" stroke-width="0.8"/>
<circle cx="424.30" cy="203.40" r="1.05" fill="#000"/>
<circle cx="424.30" cy="223.30" r="1.05" fill="#000"/>
<circle cx="424.30" cy="226.00" r="1.05" fill="#000"/>
<circle cx="424.30" cy="228.50" r="1.05" fill="#000"/>
<circle cx="424.30" cy="231.40" r="1.05" fill="#000"/>
<circle cx="424.30" cy="234.10" r="1.05" fill="#000"/>
<circle cx="424.30" cy="236.90" r="1.05" fill="#000"/>
<line x1="445.85" y1="253.95" x2="445.85" y2="256.30" stroke="#333" stroke-width="0.8"/>
<line x1="442.85" y1="256.30" x2="448.85" y2="256.30" stroke="#333" stroke-width="0.8"/>
<circle cx="445.90" cy="239.80" r="1.05" fill="#000"/>
<circle cx="445.90" cy="247.50" r="1.05" fill="#000"/>
<circle cx="445.90" cy="251.10" r="1.05" fill="#000"/>
<circle cx="445.90" cy="253.50" r="1.05" fill="#000"/>
<circle cx="445.90" cy="255.90" r="1.05" fill="#000"/>
<circle cx="445.90" cy="260.30" r="1.05" fill="#000"/>
<circle cx="445.90" cy="264.30" r="1.05" fill="#000"/>
<path d="M424.30,198.60 L424.30,195.40 L445.90,195.40 L445.90,233.30" fill="none" stroke="#777" stroke-width="0.8"/>
<text x="419.00" y="189.70" font-size="9.20" style="stroke-width:0.1px" textLength="33.00" lengthAdjust="spacingAndGlyphs"><tspan font-style="italic">P</tspan>&lt;0.0001</text>
<text x="385.20" y="237.00" font-size="9" text-anchor="middle" textLength="110.00" lengthAdjust="spacingAndGlyphs" transform="rotate(-90 385.20 237.00)">Discrimination index (%)</text>
<text x="427.20" y="287.60" font-size="9.5" text-anchor="end" transform="rotate(-45 427.20 287.60)">WT</text>
<text x="449.00" y="288.80" font-size="9.5" text-anchor="end" textLength="58.00" lengthAdjust="spacingAndGlyphs" transform="rotate(-45 449.00 288.80)">GolpHCat KO</text>
<!-- panel_i -->
<text x="474.30" y="179.80" font-size="16">i</text>
<line x1="516.80" y1="224.20" x2="516.80" y2="309.30" stroke="#474747" stroke-width="0.9"/>
<line x1="514.30" y1="309.30" x2="516.80" y2="309.30" stroke="#474747" stroke-width="0.9"/>
<text x="513.00" y="312.70" font-size="9.5" text-anchor="end">0</text>
<line x1="514.30" y1="292.34" x2="516.80" y2="292.34" stroke="#474747" stroke-width="0.9"/>
<text x="513.00" y="295.74" font-size="9.5" text-anchor="end">20</text>
<line x1="514.30" y1="275.38" x2="516.80" y2="275.38" stroke="#474747" stroke-width="0.9"/>
<text x="513.00" y="278.78" font-size="9.5" text-anchor="end">40</text>
<line x1="514.30" y1="258.42" x2="516.80" y2="258.42" stroke="#474747" stroke-width="0.9"/>
<text x="513.00" y="261.82" font-size="9.5" text-anchor="end">60</text>
<line x1="514.30" y1="241.46" x2="516.80" y2="241.46" stroke="#474747" stroke-width="0.9"/>
<text x="513.00" y="244.86" font-size="9.5" text-anchor="end">80</text>
<line x1="514.30" y1="224.50" x2="516.80" y2="224.50" stroke="#474747" stroke-width="0.9"/>
<text x="513.00" y="227.90" font-size="9.5" text-anchor="end">100</text>
<line x1="516.80" y1="309.30" x2="633.40" y2="309.30" stroke="#474747" stroke-width="0.9"/>
<line x1="516.80" y1="309.30" x2="516.80" y2="311.80" stroke="#474747" stroke-width="0.9"/>
<text x="516.80" y="323.50" font-size="9.5" text-anchor="middle">0</text>
<line x1="527.35" y1="309.30" x2="527.35" y2="311.80" stroke="#474747" stroke-width="0.9"/>
<text x="527.35" y="323.50" font-size="9.5" text-anchor="middle">1</text>
<line x1="537.90" y1="309.30" x2="537.90" y2="311.80" stroke="#474747" stroke-width="0.9"/>
<text x="537.90" y="323.50" font-size="9.5" text-anchor="middle">2</text>
<line x1="548.45" y1="309.30" x2="548.45" y2="311.80" stroke="#474747" stroke-width="0.9"/>
<text x="548.45" y="323.50" font-size="9.5" text-anchor="middle">3</text>
<line x1="559.00" y1="309.30" x2="559.00" y2="311.80" stroke="#474747" stroke-width="0.9"/>
<text x="559.00" y="323.50" font-size="9.5" text-anchor="middle">4</text>
<line x1="569.55" y1="309.30" x2="569.55" y2="311.80" stroke="#474747" stroke-width="0.9"/>
<text x="569.55" y="323.50" font-size="9.5" text-anchor="middle">5</text>
<line x1="580.10" y1="309.30" x2="580.10" y2="311.80" stroke="#474747" stroke-width="0.9"/>
<text x="580.10" y="323.50" font-size="9.5" text-anchor="middle">6</text>
<line x1="590.65" y1="309.30" x2="590.65" y2="311.80" stroke="#474747" stroke-width="0.9"/>
<text x="590.65" y="323.50" font-size="9.5" text-anchor="middle">7</text>
<line x1="601.20" y1="309.30" x2="601.20" y2="311.80" stroke="#474747" stroke-width="0.9"/>
<text x="601.20" y="323.50" font-size="9.5" text-anchor="middle">8</text>
<line x1="611.75" y1="309.30" x2="611.75" y2="311.80" stroke="#474747" stroke-width="0.9"/>
<text x="611.75" y="323.50" font-size="9.5" text-anchor="middle">9</text>
<line x1="622.30" y1="309.30" x2="622.30" y2="311.80" stroke="#474747" stroke-width="0.9"/>
<text x="622.30" y="323.50" font-size="9.5" text-anchor="middle">10</text>
<line x1="632.85" y1="309.30" x2="632.85" y2="311.80" stroke="#474747" stroke-width="0.9"/>
<text x="632.85" y="323.50" font-size="9.5" text-anchor="middle">11</text>
<text x="575.00" y="335.80" font-size="10" text-anchor="middle" textLength="48.50" lengthAdjust="spacingAndGlyphs">Time (min)</text>
<text x="491.90" y="269.60" font-size="9.5" text-anchor="middle" textLength="56.80" lengthAdjust="spacingAndGlyphs" transform="rotate(-90 491.90 269.60)">Freezing (%)</text>
<circle cx="525.00" cy="189.00" r="3.0" fill="#929292" stroke="#333333" stroke-width="0.7"/>
<circle cx="525.00" cy="197.90" r="3.0" fill="#fa9e3e" stroke="#333333" stroke-width="0.7"/>
<text x="531.60" y="192.60" font-size="9.5">WT</text>
<text x="531.60" y="201.50" font-size="9.5" textLength="58.50" lengthAdjust="spacingAndGlyphs">GolpHCat KO</text>
<text x="580.30" y="219.20" font-size="9.5" text-anchor="middle" textLength="46.60" lengthAdjust="spacingAndGlyphs">Acquisition</text>
<text x="640.10" y="201.60" font-size="9.5" textLength="37.10" lengthAdjust="spacingAndGlyphs">Retrieval</text>
<line x1="555.70" y1="231.10" x2="555.70" y2="234.50" stroke="#f7a040" stroke-width="0.9"/>
<line x1="571.40" y1="231.10" x2="571.40" y2="234.50" stroke="#f7a040" stroke-width="0.9"/>
<line x1="587.50" y1="231.10" x2="587.50" y2="234.50" stroke="#f7a040" stroke-width="0.9"/>
<line x1="603.30" y1="231.10" x2="603.30" y2="234.50" stroke="#f7a040" stroke-width="0.9"/>
<line x1="619.40" y1="231.10" x2="619.40" y2="234.50" stroke="#f7a040" stroke-width="0.9"/>
<line x1="633.50" y1="239.70" x2="633.50" y2="309.30" stroke="#888" stroke-width="0.7" stroke-dasharray="0.9 1.2"/>
<text x="617.30" y="253.90" font-size="9.5">ns</text>
<line x1="559.00" y1="303.36" x2="559.00" y2="305.06" stroke="#aaa" stroke-width="0.7"/>
<line x1="557.50" y1="303.36" x2="560.50" y2="303.36" stroke="#aaa" stroke-width="0.7"/>
<line x1="557.50" y1="305.06" x2="560.50" y2="305.06" stroke="#aaa" stroke-width="0.7"/>
<line x1="559.00" y1="307.18" x2="559.00" y2="308.03" stroke="#f7b060" stroke-width="0.7"/>
<line x1="557.50" y1="307.18" x2="560.50" y2="307.18" stroke="#f7b060" stroke-width="0.7"/>
<line x1="557.50" y1="308.03" x2="560.50" y2="308.03" stroke="#f7b060" stroke-width="0.7"/>
<line x1="569.55" y1="295.73" x2="569.55" y2="298.28" stroke="#aaa" stroke-width="0.7"/>
<line x1="568.05" y1="295.73" x2="571.05" y2="295.73" stroke="#aaa" stroke-width="0.7"/>
<line x1="568.05" y1="298.28" x2="571.05" y2="298.28" stroke="#aaa" stroke-width="0.7"/>
<line x1="569.55" y1="306.33" x2="569.55" y2="307.18" stroke="#f7b060" stroke-width="0.7"/>
<line x1="568.05" y1="306.33" x2="571.05" y2="306.33" stroke="#f7b060" stroke-width="0.7"/>
<line x1="568.05" y1="307.18" x2="571.05" y2="307.18" stroke="#f7b060" stroke-width="0.7"/>
<line x1="580.10" y1="281.32" x2="580.10" y2="287.25" stroke="#aaa" stroke-width="0.7"/>
<line x1="578.60" y1="281.32" x2="581.60" y2="281.32" stroke="#aaa" stroke-width="0.7"/>
<line x1="578.60" y1="287.25" x2="581.60" y2="287.25" stroke="#aaa" stroke-width="0.7"/>
<line x1="580.10" y1="290.64" x2="580.10" y2="293.19" stroke="#f7b060" stroke-width="0.7"/>
<line x1="578.60" y1="290.64" x2="581.60" y2="290.64" stroke="#f7b060" stroke-width="0.7"/>
<line x1="578.60" y1="293.19" x2="581.60" y2="293.19" stroke="#f7b060" stroke-width="0.7"/>
<line x1="590.65" y1="280.47" x2="590.65" y2="285.56" stroke="#aaa" stroke-width="0.7"/>
<line x1="589.15" y1="280.47" x2="592.15" y2="280.47" stroke="#aaa" stroke-width="0.7"/>
<line x1="589.15" y1="285.56" x2="592.15" y2="285.56" stroke="#aaa" stroke-width="0.7"/>
<line x1="590.65" y1="292.34" x2="590.65" y2="294.88" stroke="#f7b060" stroke-width="0.7"/>
<line x1="589.15" y1="292.34" x2="592.15" y2="292.34" stroke="#f7b060" stroke-width="0.7"/>
<line x1="589.15" y1="294.88" x2="592.15" y2="294.88" stroke="#f7b060" stroke-width="0.7"/>
<line x1="601.20" y1="266.90" x2="601.20" y2="271.14" stroke="#aaa" stroke-width="0.7"/>
<line x1="599.70" y1="266.90" x2="602.70" y2="266.90" stroke="#aaa" stroke-width="0.7"/>
<line x1="599.70" y1="271.14" x2="602.70" y2="271.14" stroke="#aaa" stroke-width="0.7"/>
<line x1="601.20" y1="264.70" x2="601.20" y2="271.14" stroke="#f7b060" stroke-width="0.7"/>
<line x1="599.70" y1="264.70" x2="602.70" y2="264.70" stroke="#f7b060" stroke-width="0.7"/>
<line x1="599.70" y1="271.14" x2="602.70" y2="271.14" stroke="#f7b060" stroke-width="0.7"/>
<line x1="611.75" y1="267.75" x2="611.75" y2="271.99" stroke="#aaa" stroke-width="0.7"/>
<line x1="610.25" y1="267.75" x2="613.25" y2="267.75" stroke="#aaa" stroke-width="0.7"/>
<line x1="610.25" y1="271.99" x2="613.25" y2="271.99" stroke="#aaa" stroke-width="0.7"/>
<line x1="611.75" y1="266.90" x2="611.75" y2="271.99" stroke="#f7b060" stroke-width="0.7"/>
<line x1="610.25" y1="266.90" x2="613.25" y2="266.90" stroke="#f7b060" stroke-width="0.7"/>
<line x1="610.25" y1="271.99" x2="613.25" y2="271.99" stroke="#f7b060" stroke-width="0.7"/>
<line x1="622.30" y1="276.23" x2="622.30" y2="281.32" stroke="#aaa" stroke-width="0.7"/>
<line x1="620.80" y1="276.23" x2="623.80" y2="276.23" stroke="#aaa" stroke-width="0.7"/>
<line x1="620.80" y1="281.32" x2="623.80" y2="281.32" stroke="#aaa" stroke-width="0.7"/>
<line x1="622.30" y1="284.71" x2="622.30" y2="287.25" stroke="#f7b060" stroke-width="0.7"/>
<line x1="620.80" y1="284.71" x2="623.80" y2="284.71" stroke="#f7b060" stroke-width="0.7"/>
<line x1="620.80" y1="287.25" x2="623.80" y2="287.25" stroke="#f7b060" stroke-width="0.7"/>
<line x1="632.85" y1="247.40" x2="632.85" y2="251.64" stroke="#aaa" stroke-width="0.7"/>
<line x1="631.35" y1="247.40" x2="634.35" y2="247.40" stroke="#aaa" stroke-width="0.7"/>
<line x1="631.35" y1="251.64" x2="634.35" y2="251.64" stroke="#aaa" stroke-width="0.7"/>
<line x1="632.85" y1="245.36" x2="632.85" y2="249.94" stroke="#f7b060" stroke-width="0.7"/>
<line x1="631.35" y1="245.36" x2="634.35" y2="245.36" stroke="#f7b060" stroke-width="0.7"/>
<line x1="631.35" y1="249.94" x2="634.35" y2="249.94" stroke="#f7b060" stroke-width="0.7"/>
<polyline points="527.35,309.30 537.90,309.30 548.45,309.30 559.00,305.06 569.55,298.28 580.10,287.25 590.65,285.56 601.20,271.14 611.75,271.99 622.30,281.32 632.85,251.64" fill="none" stroke="#8c8c8c" stroke-width="0.9"/>
<polyline points="527.35,309.30 537.90,309.30 548.45,309.30 559.00,308.03 569.55,307.18 580.10,293.19 590.65,294.88 601.20,271.14 611.75,271.99 622.30,287.25 632.85,249.94" fill="none" stroke="#f7a040" stroke-width="0.9"/>
<circle cx="527.35" cy="309.30" r="2.2" fill="#fa9e3e" stroke="#333333" stroke-width="0.7"/>
<circle cx="537.90" cy="309.30" r="2.2" fill="#fa9e3e" stroke="#333333" stroke-width="0.7"/>
<circle cx="548.45" cy="309.30" r="2.2" fill="#fa9e3e" stroke="#333333" stroke-width="0.7"/>
<circle cx="559.00" cy="308.03" r="2.2" fill="#fa9e3e" stroke="#333333" stroke-width="0.7"/>
<circle cx="569.55" cy="307.18" r="2.2" fill="#fa9e3e" stroke="#333333" stroke-width="0.7"/>
<circle cx="580.10" cy="293.19" r="2.2" fill="#fa9e3e" stroke="#333333" stroke-width="0.7"/>
<circle cx="590.65" cy="294.88" r="2.2" fill="#fa9e3e" stroke="#333333" stroke-width="0.7"/>
<circle cx="601.20" cy="271.14" r="2.2" fill="#fa9e3e" stroke="#333333" stroke-width="0.7"/>
<circle cx="611.75" cy="271.99" r="2.2" fill="#fa9e3e" stroke="#333333" stroke-width="0.7"/>
<circle cx="622.30" cy="287.25" r="2.2" fill="#fa9e3e" stroke="#333333" stroke-width="0.7"/>
<circle cx="632.85" cy="249.94" r="2.2" fill="#fa9e3e" stroke="#333333" stroke-width="0.7"/>
<circle cx="527.35" cy="309.30" r="2.2" fill="#929292" stroke="#333333" stroke-width="0.7"/>
<circle cx="537.90" cy="309.30" r="2.2" fill="#929292" stroke="#333333" stroke-width="0.7"/>
<circle cx="548.45" cy="309.30" r="2.2" fill="#929292" stroke="#333333" stroke-width="0.7"/>
<circle cx="559.00" cy="305.06" r="2.2" fill="#929292" stroke="#333333" stroke-width="0.7"/>
<circle cx="569.55" cy="298.28" r="2.2" fill="#929292" stroke="#333333" stroke-width="0.7"/>
<circle cx="580.10" cy="287.25" r="2.2" fill="#929292" stroke="#333333" stroke-width="0.7"/>
<circle cx="590.65" cy="285.56" r="2.2" fill="#929292" stroke="#333333" stroke-width="0.7"/>
<circle cx="601.20" cy="271.14" r="2.2" fill="#929292" stroke="#333333" stroke-width="0.7"/>
<circle cx="611.75" cy="271.99" r="2.2" fill="#929292" stroke="#333333" stroke-width="0.7"/>
<circle cx="622.30" cy="281.32" r="2.2" fill="#929292" stroke="#333333" stroke-width="0.7"/>
<circle cx="632.85" cy="251.64" r="2.2" fill="#929292" stroke="#333333" stroke-width="0.7"/>
<line x1="667.90" y1="231.10" x2="667.90" y2="309.10" stroke="#474747" stroke-width="0.9"/>
<line x1="667.90" y1="309.10" x2="670.40" y2="309.10" stroke="#474747" stroke-width="0.9"/>
<text x="674.40" y="312.50" font-size="9.5">0</text>
<line x1="667.90" y1="293.56" x2="670.40" y2="293.56" stroke="#474747" stroke-width="0.9"/>
<text x="674.40" y="296.96" font-size="9.5">10</text>
<line x1="667.90" y1="278.02" x2="670.40" y2="278.02" stroke="#474747" stroke-width="0.9"/>
<text x="674.40" y="281.42" font-size="9.5">20</text>
<line x1="667.90" y1="262.48" x2="670.40" y2="262.48" stroke="#474747" stroke-width="0.9"/>
<text x="674.40" y="265.88" font-size="9.5">30</text>
<line x1="667.90" y1="246.94" x2="670.40" y2="246.94" stroke="#474747" stroke-width="0.9"/>
<text x="674.40" y="250.34" font-size="9.5">40</text>
<line x1="667.90" y1="231.40" x2="670.40" y2="231.40" stroke="#474747" stroke-width="0.9"/>
<text x="674.40" y="234.80" font-size="9.5">50</text>
<line x1="648.60" y1="309.10" x2="667.90" y2="309.10" stroke="#474747" stroke-width="0.9"/>
<line x1="648.60" y1="309.10" x2="648.60" y2="311.30" stroke="#474747" stroke-width="0.9"/>
<line x1="667.90" y1="309.10" x2="667.90" y2="311.30" stroke="#474747" stroke-width="0.9"/>
<line x1="648.60" y1="238.60" x2="648.60" y2="309.10" stroke="#888" stroke-width="0.7" stroke-dasharray="0.9 1.2"/>
<line x1="658.40" y1="254.09" x2="658.40" y2="267.76" stroke="#aaa" stroke-width="0.8"/>
<line x1="656.90" y1="254.09" x2="659.90" y2="254.09" stroke="#aaa" stroke-width="0.8"/>
<line x1="656.90" y1="267.76" x2="659.90" y2="267.76" stroke="#aaa" stroke-width="0.8"/>
<line x1="658.40" y1="275.07" x2="658.40" y2="285.32" stroke="#f7b060" stroke-width="0.8"/>
<line x1="656.90" y1="275.07" x2="659.90" y2="275.07" stroke="#f7b060" stroke-width="0.8"/>
<line x1="656.90" y1="285.32" x2="659.90" y2="285.32" stroke="#f7b060" stroke-width="0.8"/>
<circle cx="658.40" cy="260.93" r="2.2" fill="#929292" stroke="#333333" stroke-width="0.7"/>
<circle cx="658.40" cy="280.20" r="2.2" fill="#fa9e3e" stroke="#333333" stroke-width="0.7"/>
<text x="661.60" y="228.30" font-size="9.89" style="stroke-width:0.1px" text-anchor="middle" textLength="39.10" lengthAdjust="spacingAndGlyphs" transform="rotate(-90 661.60 228.30)">*<tspan font-style="italic">P</tspan>=0.0309</text>
<!-- panel_j -->
<text x="2.20" y="354.90" font-size="16">j</text>
<text x="32.10" y="366.90" font-size="9.5" textLength="136.40" lengthAdjust="spacingAndGlyphs">Astrocyte-specific GolpHCat KD</text>
<g fill="none" stroke="#1a1a1a" stroke-width="0.85">
<path d="M88.9,387.80 C87.5,386.30 85.5,385.90 82.8,385.90 C78.5,385.90 75,386.40 71.9,387.40 C68,388.60 65,390.60 63.1,392.80 C60.2,396.00 58.4,400.00 58.2,404.50 C58.0,408.00 58.2,411.00 58.8,414.40 C59.6,417.60 61.2,420.20 63.1,422.10 C65,423.80 67.5,425.40 70.0,426.20 C72.5,426.60 75.5,426.60 76.6,425.40 C77.6,424.20 78.0,422.00 77.9,419.90 C79.5,421.60 81.0,423.60 82.8,425.20 C84.5,426.10 86.5,426.40 88.9,426.40"/>
<path d="M88.9,387.80 C87.5,386.30 85.5,385.90 82.8,385.90 C78.5,385.90 75,386.40 71.9,387.40 C68,388.60 65,390.60 63.1,392.80 C60.2,396.00 58.4,400.00 58.2,404.50 C58.0,408.00 58.2,411.00 58.8,414.40 C59.6,417.60 61.2,420.20 63.1,422.10 C65,423.80 67.5,425.40 70.0,426.20 C72.5,426.60 75.5,426.60 76.6,425.40 C77.6,424.20 78.0,422.00 77.9,419.90 C79.5,421.60 81.0,423.60 82.8,425.20 C84.5,426.10 86.5,426.40 88.9,426.40" transform="translate(177.80,0) scale(-1,1)"/>
<path d="M65.3,420.60 C64.0,418.00 63.5,415.00 63.6,411.50 C63.7,407.00 64.2,403.00 65.2,400.20 C66.5,397.50 68.0,396.00 70.5,394.60 C73.5,393.30 77.0,392.60 80.5,392.50 C84,392.60 86.5,393.00 88.9,393.60"/>
<path d="M65.3,420.60 C64.0,418.00 63.5,415.00 63.6,411.50 C63.7,407.00 64.2,403.00 65.2,400.20 C66.5,397.50 68.0,396.00 70.5,394.60 C73.5,393.30 77.0,392.60 80.5,392.50 C84,392.60 86.5,393.00 88.9,393.60" transform="translate(177.80,0) scale(-1,1)"/>
<path d="M68.9,401.60 C69.5,399.50 71.5,397.40 74.5,396.40 C77.5,395.60 80.5,395.60 83.5,396.40 C85.5,397.20 87.0,398.00 88.2,399.00 M68.6,402.00 C74,401.60 80,401.20 87.2,400.80 M69.4,402.00 C69.0,406.00 69.0,410.00 69.8,414.00"/>
<path d="M68.9,401.60 C69.5,399.50 71.5,397.40 74.5,396.40 C77.5,395.60 80.5,395.60 83.5,396.40 C85.5,397.20 87.0,398.00 88.2,399.00 M68.6,402.00 C74,401.60 80,401.20 87.2,400.80 M69.4,402.00 C69.0,406.00 69.0,410.00 69.8,414.00" transform="translate(177.80,0) scale(-1,1)"/>
</g>
<path d="M71.6,400.60 C74,398.60 77.5,397.60 80.5,397.90 C82,398.30 83.2,399.00 84.0,399.80 C82,399.60 79,399.30 76.5,399.50 C74.5,399.90 73,400.30 71.6,400.60 Z" fill="#222" stroke="#222" stroke-width="0.6"/>
<path d="M71.6,400.60 C74,398.60 77.5,397.60 80.5,397.90 C82,398.30 83.2,399.00 84.0,399.80 C82,399.60 79,399.30 76.5,399.50 C74.5,399.90 73,400.30 71.6,400.60 Z" fill="#222" stroke="#222" stroke-width="0.6" transform="translate(177.80,0) scale(-1,1)"/>
<line x1="88.90" y1="387.80" x2="88.90" y2="394.00" stroke="#1a1a1a" stroke-width="0.85"/>
<path d="M88.9,397.60 C87.60000000000001,399.80 87.80000000000001,402.40 88.9,404.40 C90.0,402.40 90.2,399.80 88.9,397.60 Z" fill="#fff" stroke="#1a1a1a" stroke-width="0.8"/>
<line x1="88.90" y1="419.60" x2="88.90" y2="424.80" stroke="#1a1a1a" stroke-width="0.9"/>
<line x1="77.60" y1="372.60" x2="77.60" y2="395.70" stroke="#333" stroke-width="0.6"/>
<rect x="76.60" y="375.60" width="2.0" height="7.4" rx="1.0" fill="#fff" stroke="#333" stroke-width="0.55"/>
<line x1="98.40" y1="372.60" x2="98.40" y2="395.70" stroke="#333" stroke-width="0.6"/>
<rect x="97.40" y="375.60" width="2.0" height="7.4" rx="1.0" fill="#fff" stroke="#333" stroke-width="0.55"/>
<text x="118.20" y="392.60" font-size="8.3" textLength="52.60" lengthAdjust="spacingAndGlyphs">CA1 Astrocyte</text>
<rect x="18.10" y="437.90" width="7.40" height="7.10" fill="#999999" stroke="#555" stroke-width="0.5"/>
<rect x="18.10" y="462.70" width="7.40" height="7.10" fill="#f98a8a" stroke="#555" stroke-width="0.5"/>
<text x="28.30" y="444.50" font-size="9.5" textLength="97.00" lengthAdjust="spacingAndGlyphs">AAV-GFAP-cre-mCh +</text>
<text x="28.30" y="455.30" font-size="9.5" textLength="151.30" lengthAdjust="spacingAndGlyphs">Lenti-pSico-Scrambled shRNA-GFP</text>
<text x="28.30" y="469.30" font-size="9.5" textLength="97.00" lengthAdjust="spacingAndGlyphs">AAV-GFAP-cre-mCh +</text>
<text x="28.30" y="480.10" font-size="9.5" textLength="148.30" lengthAdjust="spacingAndGlyphs">Lenti-pSico-GolpHCat shRNA-GFP</text>
<!-- panel_k -->
<text x="195.30" y="355.70" font-size="16">k</text>
<line x1="238.30" y1="384.50" x2="238.30" y2="473.20" stroke="#474747" stroke-width="0.9"/>
<line x1="235.80" y1="473.20" x2="238.30" y2="473.20" stroke="#474747" stroke-width="0.9"/>
<text x="234.40" y="476.60" font-size="9.5" text-anchor="end">0</text>
<line x1="235.80" y1="451.10" x2="238.30" y2="451.10" stroke="#474747" stroke-width="0.9"/>
<text x="234.40" y="454.50" font-size="9.5" text-anchor="end">20</text>
<line x1="235.80" y1="429.00" x2="238.30" y2="429.00" stroke="#474747" stroke-width="0.9"/>
<text x="234.40" y="432.40" font-size="9.5" text-anchor="end">40</text>
<line x1="235.80" y1="406.90" x2="238.30" y2="406.90" stroke="#474747" stroke-width="0.9"/>
<text x="234.40" y="410.30" font-size="9.5" text-anchor="end">60</text>
<line x1="235.80" y1="384.80" x2="238.30" y2="384.80" stroke="#474747" stroke-width="0.9"/>
<text x="234.40" y="388.20" font-size="9.5" text-anchor="end">80</text>
<line x1="238.30" y1="473.20" x2="353.40" y2="473.20" stroke="#474747" stroke-width="0.9"/>
<rect x="245.30" y="445.46" width="15.40" height="27.74" fill="#a5a5a8" stroke="#2a2a2a" stroke-width="0.8"/>
<rect x="267.20" y="436.18" width="14.90" height="37.02" fill="url(#hg)" stroke="#2a2a2a" stroke-width="0.8"/>
<rect x="301.50" y="439.83" width="15.30" height="33.37" fill="#fd7e7e" stroke="#2a2a2a" stroke-width="0.8"/>
<rect x="322.60" y="439.17" width="15.10" height="34.03" fill="url(#hs)" stroke="#2a2a2a" stroke-width="0.8"/>
<line x1="253.00" y1="445.46" x2="253.00" y2="441.20" stroke="#555" stroke-width="0.8"/>
<line x1="249.20" y1="441.20" x2="256.80" y2="441.20" stroke="#555" stroke-width="0.8"/>
<circle cx="252.90" cy="428.20" r="1.05" fill="#000"/>
<circle cx="257.30" cy="426.30" r="1.05" fill="#000"/>
<circle cx="252.90" cy="430.50" r="1.05" fill="#000"/>
<circle cx="249.10" cy="450.20" r="1.05" fill="#000"/>
<circle cx="254.80" cy="450.20" r="1.05" fill="#000"/>
<circle cx="257.30" cy="449.30" r="1.05" fill="#000"/>
<circle cx="254.80" cy="454.00" r="1.05" fill="#000"/>
<circle cx="252.90" cy="466.40" r="1.05" fill="#000"/>
<line x1="274.65" y1="436.18" x2="274.65" y2="428.60" stroke="#555" stroke-width="0.8"/>
<line x1="270.85" y1="428.60" x2="278.45" y2="428.60" stroke="#555" stroke-width="0.8"/>
<circle cx="274.50" cy="405.30" r="1.05" fill="#000"/>
<circle cx="274.50" cy="409.70" r="1.05" fill="#000"/>
<circle cx="274.30" cy="428.50" r="1.05" fill="#000"/>
<circle cx="274.50" cy="434.90" r="1.05" fill="#000"/>
<circle cx="274.30" cy="446.00" r="1.05" fill="#000"/>
<circle cx="274.30" cy="449.50" r="1.05" fill="#000"/>
<circle cx="274.30" cy="453.60" r="1.05" fill="#000"/>
<circle cx="274.30" cy="458.90" r="1.05" fill="#000"/>
<line x1="309.15" y1="439.83" x2="309.15" y2="433.00" stroke="#555" stroke-width="0.8"/>
<line x1="305.35" y1="433.00" x2="312.95" y2="433.00" stroke="#555" stroke-width="0.8"/>
<circle cx="308.80" cy="411.00" r="1.05" fill="#000"/>
<circle cx="308.80" cy="414.00" r="1.05" fill="#000"/>
<circle cx="308.80" cy="422.00" r="1.05" fill="#000"/>
<circle cx="308.70" cy="432.00" r="1.05" fill="#000"/>
<circle cx="308.70" cy="449.50" r="1.05" fill="#000"/>
<circle cx="307.00" cy="451.60" r="1.05" fill="#000"/>
<circle cx="310.80" cy="451.60" r="1.05" fill="#000"/>
<circle cx="307.00" cy="463.00" r="1.05" fill="#000"/>
<circle cx="310.80" cy="462.10" r="1.05" fill="#000"/>
<line x1="330.15" y1="439.17" x2="330.15" y2="431.50" stroke="#555" stroke-width="0.8"/>
<line x1="326.35" y1="431.50" x2="333.95" y2="431.50" stroke="#555" stroke-width="0.8"/>
<circle cx="330.20" cy="406.70" r="1.05" fill="#000"/>
<circle cx="330.20" cy="411.00" r="1.05" fill="#000"/>
<circle cx="330.20" cy="418.70" r="1.05" fill="#000"/>
<circle cx="330.10" cy="436.70" r="1.05" fill="#000"/>
<circle cx="329.70" cy="446.60" r="1.05" fill="#000"/>
<circle cx="326.20" cy="455.60" r="1.05" fill="#000"/>
<circle cx="329.70" cy="456.80" r="1.05" fill="#000"/>
<circle cx="334.40" cy="455.60" r="1.05" fill="#000"/>
<circle cx="330.90" cy="459.50" r="1.05" fill="#000"/>
<path d="M253.00,420.00 L253.00,395.20 L274.60,395.20 L274.60,401.70" fill="none" stroke="#777" stroke-width="0.8"/>
<path d="M309.30,405.70 L309.30,395.20 L330.50,395.20 L330.50,408.80" fill="none" stroke="#777" stroke-width="0.8"/>
<text x="244.40" y="389.40" font-size="9.20" style="stroke-width:0.1px" textLength="38.90" lengthAdjust="spacingAndGlyphs">*<tspan font-style="italic">P</tspan>=0.0179</text>
<text x="321.20" y="389.40" font-size="9.5" text-anchor="middle">ns</text>
<text x="264.10" y="486.30" font-size="9.5" text-anchor="middle">Scrambled</text>
<text x="318.00" y="486.30" font-size="9.5" text-anchor="middle">Astrocytic</text>
<text x="318.00" y="497.00" font-size="9.5" text-anchor="middle">KD</text>
<rect x="241.00" y="360.40" width="7.30" height="6.40" fill="#a5a5a8" stroke="#333" stroke-width="0.6"/>
<rect x="249.10" y="360.40" width="7.30" height="6.40" fill="#fd7e7e" stroke="#333" stroke-width="0.6"/>
<rect x="241.00" y="368.80" width="7.30" height="6.40" fill="#a5a5a8" stroke="#333" stroke-width="0.6"/>
<line x1="241.60" y1="374.60" x2="247.70" y2="369.40" stroke="#111" stroke-width="0.9"/>
<rect x="249.10" y="368.80" width="7.30" height="6.40" fill="#fd7e7e" stroke="#333" stroke-width="0.6"/>
<line x1="249.70" y1="374.60" x2="255.80" y2="369.40" stroke="#111" stroke-width="0.9"/>
<text x="260.20" y="366.80" font-size="9.5" textLength="67.90" lengthAdjust="spacingAndGlyphs">Familiar location</text>
<text x="260.20" y="375.20" font-size="9.5" textLength="58.60" lengthAdjust="spacingAndGlyphs">Novel location</text>
<text x="214.20" y="430.30" font-size="9" text-anchor="middle" textLength="109.60" lengthAdjust="spacingAndGlyphs" transform="rotate(-90 214.20 430.30)">Total exploration time (s)</text>
<!-- panel_l -->
<text x="360.10" y="354.90" font-size="16">l</text>
<line x1="410.40" y1="367.50" x2="410.40" y2="449.00" stroke="#474747" stroke-width="0.9"/>
<line x1="407.90" y1="367.80" x2="410.40" y2="367.80" stroke="#474747" stroke-width="0.9"/>
<text x="406.50" y="371.20" font-size="9.5" text-anchor="end">40</text>
<line x1="407.90" y1="388.10" x2="410.40" y2="388.10" stroke="#474747" stroke-width="0.9"/>
<text x="406.50" y="391.50" font-size="9.5" text-anchor="end">20</text>
<line x1="407.90" y1="408.40" x2="410.40" y2="408.40" stroke="#474747" stroke-width="0.9"/>
<text x="406.50" y="411.80" font-size="9.5" text-anchor="end">0</text>
<line x1="407.90" y1="428.70" x2="410.40" y2="428.70" stroke="#474747" stroke-width="0.9"/>
<text x="406.50" y="432.10" font-size="9.5" text-anchor="end">-20</text>
<line x1="407.90" y1="449.00" x2="410.40" y2="449.00" stroke="#474747" stroke-width="0.9"/>
<text x="406.50" y="452.40" font-size="9.5" text-anchor="end">-40</text>
<line x1="410.40" y1="449.00" x2="460.30" y2="449.00" stroke="#474747" stroke-width="0.9"/>
<line x1="424.60" y1="449.00" x2="424.60" y2="451.50" stroke="#474747" stroke-width="0.9"/>
<line x1="445.70" y1="449.00" x2="445.70" y2="451.50" stroke="#474747" stroke-width="0.9"/>
<rect x="417.40" y="393.17" width="14.40" height="15.23" fill="#a5a5a8" stroke="#2a2a2a" stroke-width="0.8"/>
<rect x="438.60" y="408.40" width="14.20" height="2.54" fill="#fd7e7e" stroke="#2a2a2a" stroke-width="0.8"/>
<line x1="410.40" y1="408.40" x2="460.30" y2="408.40" stroke="#555" stroke-width="1.0"/>
<line x1="424.60" y1="393.17" x2="424.60" y2="387.40" stroke="#333" stroke-width="0.8"/>
<line x1="421.60" y1="387.40" x2="427.60" y2="387.40" stroke="#333" stroke-width="0.8"/>
<circle cx="424.30" cy="374.20" r="1.05" fill="#000"/>
<circle cx="424.30" cy="382.40" r="1.05" fill="#000"/>
<circle cx="424.30" cy="391.10" r="1.05" fill="#000"/>
<circle cx="424.30" cy="396.90" r="1.05" fill="#000"/>
<circle cx="424.30" cy="413.60" r="1.05" fill="#000"/>
<circle cx="424.30" cy="417.80" r="1.05" fill="#000"/>
<line x1="445.70" y1="410.94" x2="445.70" y2="414.40" stroke="#333" stroke-width="0.8"/>
<line x1="442.70" y1="414.40" x2="448.70" y2="414.40" stroke="#333" stroke-width="0.8"/>
<circle cx="446.00" cy="395.40" r="1.05" fill="#000"/>
<circle cx="446.00" cy="399.40" r="1.05" fill="#000"/>
<circle cx="446.00" cy="404.50" r="1.05" fill="#000"/>
<circle cx="446.00" cy="413.90" r="1.05" fill="#000"/>
<circle cx="446.00" cy="417.00" r="1.05" fill="#000"/>
<circle cx="446.00" cy="420.30" r="1.05" fill="#000"/>
<circle cx="446.00" cy="427.80" r="1.05" fill="#000"/>
<path d="M424.30,368.50 L424.30,365.00 L446.00,365.00 L446.00,386.90" fill="none" stroke="#777" stroke-width="0.8"/>
<text x="416.10" y="360.80" font-size="9.20" style="stroke-width:0.1px" textLength="38.70" lengthAdjust="spacingAndGlyphs">*<tspan font-style="italic">P</tspan>=0.0132</text>
<text x="384.80" y="410.00" font-size="9" text-anchor="middle" textLength="110.00" lengthAdjust="spacingAndGlyphs" transform="rotate(-90 384.80 410.00)">Discrimination index (%)</text>
<text x="427.50" y="461.00" font-size="9.5" text-anchor="end" transform="rotate(-45 427.50 461.00)">Scramble</text>
<text x="449.00" y="461.00" font-size="9.5" text-anchor="end" transform="rotate(-45 449.00 461.00)">Astrocytic KD</text>
<!-- panel_m -->
<text x="469.00" y="354.70" font-size="16">m</text>
<line x1="516.80" y1="398.70" x2="516.80" y2="483.80" stroke="#474747" stroke-width="0.9"/>
<line x1="514.30" y1="483.80" x2="516.80" y2="483.80" stroke="#474747" stroke-width="0.9"/>
<text x="513.00" y="487.20" font-size="9.5" text-anchor="end">0</text>
<line x1="514.30" y1="466.84" x2="516.80" y2="466.84" stroke="#474747" stroke-width="0.9"/>
<text x="513.00" y="470.24" font-size="9.5" text-anchor="end">20</text>
<line x1="514.30" y1="449.88" x2="516.80" y2="449.88" stroke="#474747" stroke-width="0.9"/>
<text x="513.00" y="453.28" font-size="9.5" text-anchor="end">40</text>
<line x1="514.30" y1="432.92" x2="516.80" y2="432.92" stroke="#474747" stroke-width="0.9"/>
<text x="513.00" y="436.32" font-size="9.5" text-anchor="end">60</text>
<line x1="514.30" y1="415.96" x2="516.80" y2="415.96" stroke="#474747" stroke-width="0.9"/>
<text x="513.00" y="419.36" font-size="9.5" text-anchor="end">80</text>
<line x1="514.30" y1="399.00" x2="516.80" y2="399.00" stroke="#474747" stroke-width="0.9"/>
<text x="513.00" y="402.40" font-size="9.5" text-anchor="end">100</text>
<line x1="516.80" y1="483.80" x2="633.40" y2="483.80" stroke="#474747" stroke-width="0.9"/>
<line x1="516.80" y1="483.80" x2="516.80" y2="486.30" stroke="#474747" stroke-width="0.9"/>
<text x="516.80" y="498.00" font-size="9.5" text-anchor="middle">0</text>
<line x1="527.35" y1="483.80" x2="527.35" y2="486.30" stroke="#474747" stroke-width="0.9"/>
<text x="527.35" y="498.00" font-size="9.5" text-anchor="middle">1</text>
<line x1="537.90" y1="483.80" x2="537.90" y2="486.30" stroke="#474747" stroke-width="0.9"/>
<text x="537.90" y="498.00" font-size="9.5" text-anchor="middle">2</text>
<line x1="548.45" y1="483.80" x2="548.45" y2="486.30" stroke="#474747" stroke-width="0.9"/>
<text x="548.45" y="498.00" font-size="9.5" text-anchor="middle">3</text>
<line x1="559.00" y1="483.80" x2="559.00" y2="486.30" stroke="#474747" stroke-width="0.9"/>
<text x="559.00" y="498.00" font-size="9.5" text-anchor="middle">4</text>
<line x1="569.55" y1="483.80" x2="569.55" y2="486.30" stroke="#474747" stroke-width="0.9"/>
<text x="569.55" y="498.00" font-size="9.5" text-anchor="middle">5</text>
<line x1="580.10" y1="483.80" x2="580.10" y2="486.30" stroke="#474747" stroke-width="0.9"/>
<text x="580.10" y="498.00" font-size="9.5" text-anchor="middle">6</text>
<line x1="590.65" y1="483.80" x2="590.65" y2="486.30" stroke="#474747" stroke-width="0.9"/>
<text x="590.65" y="498.00" font-size="9.5" text-anchor="middle">7</text>
<line x1="601.20" y1="483.80" x2="601.20" y2="486.30" stroke="#474747" stroke-width="0.9"/>
<text x="601.20" y="498.00" font-size="9.5" text-anchor="middle">8</text>
<line x1="611.75" y1="483.80" x2="611.75" y2="486.30" stroke="#474747" stroke-width="0.9"/>
<text x="611.75" y="498.00" font-size="9.5" text-anchor="middle">9</text>
<line x1="622.30" y1="483.80" x2="622.30" y2="486.30" stroke="#474747" stroke-width="0.9"/>
<text x="622.30" y="498.00" font-size="9.5" text-anchor="middle">10</text>
<line x1="632.85" y1="483.80" x2="632.85" y2="486.30" stroke="#474747" stroke-width="0.9"/>
<text x="632.85" y="498.00" font-size="9.5" text-anchor="middle">11</text>
<text x="575.00" y="510.30" font-size="10" text-anchor="middle" textLength="48.50" lengthAdjust="spacingAndGlyphs">Time (min)</text>
<text x="491.90" y="444.10" font-size="9.5" text-anchor="middle" textLength="56.80" lengthAdjust="spacingAndGlyphs" transform="rotate(-90 491.90 444.10)">Freezing  (%)</text>
<circle cx="525.00" cy="363.50" r="3.0" fill="#929292" stroke="#333333" stroke-width="0.7"/>
<circle cx="525.00" cy="372.40" r="3.0" fill="#fd7e7e" stroke="#333333" stroke-width="0.7"/>
<text x="531.60" y="367.10" font-size="9.5">Scrambled</text>
<text x="531.60" y="376.00" font-size="9.5">Astrocytic KD</text>
<text x="580.30" y="393.70" font-size="9.5" text-anchor="middle" textLength="46.60" lengthAdjust="spacingAndGlyphs">Acquisition</text>
<text x="640.10" y="385.60" font-size="9.5" textLength="37.10" lengthAdjust="spacingAndGlyphs">Retrieval</text>
<line x1="555.70" y1="405.60" x2="555.70" y2="409.00" stroke="#f06a6a" stroke-width="0.9"/>
<line x1="571.40" y1="405.60" x2="571.40" y2="409.00" stroke="#f06a6a" stroke-width="0.9"/>
<line x1="587.50" y1="405.60" x2="587.50" y2="409.00" stroke="#f06a6a" stroke-width="0.9"/>
<line x1="603.30" y1="405.60" x2="603.30" y2="409.00" stroke="#f06a6a" stroke-width="0.9"/>
<line x1="619.40" y1="405.60" x2="619.40" y2="409.00" stroke="#f06a6a" stroke-width="0.9"/>
<line x1="633.50" y1="414.20" x2="633.50" y2="483.80" stroke="#888" stroke-width="0.7" stroke-dasharray="0.9 1.2"/>
<text x="619.20" y="434.40" font-size="9.5">ns</text>
<line x1="559.00" y1="482.10" x2="559.00" y2="482.95" stroke="#aaa" stroke-width="0.7"/>
<line x1="557.50" y1="482.10" x2="560.50" y2="482.10" stroke="#aaa" stroke-width="0.7"/>
<line x1="557.50" y1="482.95" x2="560.50" y2="482.95" stroke="#aaa" stroke-width="0.7"/>
<line x1="559.00" y1="481.26" x2="559.00" y2="482.10" stroke="#f08080" stroke-width="0.7"/>
<line x1="557.50" y1="481.26" x2="560.50" y2="481.26" stroke="#f08080" stroke-width="0.7"/>
<line x1="557.50" y1="482.10" x2="560.50" y2="482.10" stroke="#f08080" stroke-width="0.7"/>
<line x1="569.55" y1="478.71" x2="569.55" y2="479.56" stroke="#aaa" stroke-width="0.7"/>
<line x1="568.05" y1="478.71" x2="571.05" y2="478.71" stroke="#aaa" stroke-width="0.7"/>
<line x1="568.05" y1="479.56" x2="571.05" y2="479.56" stroke="#aaa" stroke-width="0.7"/>
<line x1="569.55" y1="478.71" x2="569.55" y2="479.56" stroke="#f08080" stroke-width="0.7"/>
<line x1="568.05" y1="478.71" x2="571.05" y2="478.71" stroke="#f08080" stroke-width="0.7"/>
<line x1="568.05" y1="479.56" x2="571.05" y2="479.56" stroke="#f08080" stroke-width="0.7"/>
<line x1="580.10" y1="469.38" x2="580.10" y2="471.93" stroke="#aaa" stroke-width="0.7"/>
<line x1="578.60" y1="469.38" x2="581.60" y2="469.38" stroke="#aaa" stroke-width="0.7"/>
<line x1="578.60" y1="471.93" x2="581.60" y2="471.93" stroke="#aaa" stroke-width="0.7"/>
<line x1="580.10" y1="465.14" x2="580.10" y2="470.23" stroke="#f08080" stroke-width="0.7"/>
<line x1="578.60" y1="465.14" x2="581.60" y2="465.14" stroke="#f08080" stroke-width="0.7"/>
<line x1="578.60" y1="470.23" x2="581.60" y2="470.23" stroke="#f08080" stroke-width="0.7"/>
<line x1="590.65" y1="468.54" x2="590.65" y2="471.08" stroke="#aaa" stroke-width="0.7"/>
<line x1="589.15" y1="468.54" x2="592.15" y2="468.54" stroke="#aaa" stroke-width="0.7"/>
<line x1="589.15" y1="471.08" x2="592.15" y2="471.08" stroke="#aaa" stroke-width="0.7"/>
<line x1="590.65" y1="470.23" x2="590.65" y2="471.93" stroke="#f08080" stroke-width="0.7"/>
<line x1="589.15" y1="470.23" x2="592.15" y2="470.23" stroke="#f08080" stroke-width="0.7"/>
<line x1="589.15" y1="471.93" x2="592.15" y2="471.93" stroke="#f08080" stroke-width="0.7"/>
<line x1="601.20" y1="451.58" x2="601.20" y2="457.51" stroke="#aaa" stroke-width="0.7"/>
<line x1="599.70" y1="451.58" x2="602.70" y2="451.58" stroke="#aaa" stroke-width="0.7"/>
<line x1="599.70" y1="457.51" x2="602.70" y2="457.51" stroke="#aaa" stroke-width="0.7"/>
<line x1="601.20" y1="454.97" x2="601.20" y2="457.51" stroke="#f08080" stroke-width="0.7"/>
<line x1="599.70" y1="454.97" x2="602.70" y2="454.97" stroke="#f08080" stroke-width="0.7"/>
<line x1="599.70" y1="457.51" x2="602.70" y2="457.51" stroke="#f08080" stroke-width="0.7"/>
<line x1="611.75" y1="448.61" x2="611.75" y2="451.15" stroke="#aaa" stroke-width="0.7"/>
<line x1="610.25" y1="448.61" x2="613.25" y2="448.61" stroke="#aaa" stroke-width="0.7"/>
<line x1="610.25" y1="451.15" x2="613.25" y2="451.15" stroke="#aaa" stroke-width="0.7"/>
<line x1="611.75" y1="440.13" x2="611.75" y2="446.49" stroke="#f08080" stroke-width="0.7"/>
<line x1="610.25" y1="440.13" x2="613.25" y2="440.13" stroke="#f08080" stroke-width="0.7"/>
<line x1="610.25" y1="446.49" x2="613.25" y2="446.49" stroke="#f08080" stroke-width="0.7"/>
<line x1="622.30" y1="452.42" x2="622.30" y2="457.51" stroke="#aaa" stroke-width="0.7"/>
<line x1="620.80" y1="452.42" x2="623.80" y2="452.42" stroke="#aaa" stroke-width="0.7"/>
<line x1="620.80" y1="457.51" x2="623.80" y2="457.51" stroke="#aaa" stroke-width="0.7"/>
<line x1="622.30" y1="458.36" x2="622.30" y2="460.90" stroke="#f08080" stroke-width="0.7"/>
<line x1="620.80" y1="458.36" x2="623.80" y2="458.36" stroke="#f08080" stroke-width="0.7"/>
<line x1="620.80" y1="460.90" x2="623.80" y2="460.90" stroke="#f08080" stroke-width="0.7"/>
<line x1="632.85" y1="426.98" x2="632.85" y2="430.38" stroke="#aaa" stroke-width="0.7"/>
<line x1="631.35" y1="426.98" x2="634.35" y2="426.98" stroke="#aaa" stroke-width="0.7"/>
<line x1="631.35" y1="430.38" x2="634.35" y2="430.38" stroke="#aaa" stroke-width="0.7"/>
<line x1="632.85" y1="424.44" x2="632.85" y2="429.53" stroke="#f08080" stroke-width="0.7"/>
<line x1="631.35" y1="424.44" x2="634.35" y2="424.44" stroke="#f08080" stroke-width="0.7"/>
<line x1="631.35" y1="429.53" x2="634.35" y2="429.53" stroke="#f08080" stroke-width="0.7"/>
<polyline points="527.35,483.80 537.90,483.80 548.45,483.80 559.00,482.95 569.55,479.56 580.10,471.93 590.65,471.08 601.20,457.51 611.75,451.15 622.30,457.51 632.85,430.38" fill="none" stroke="#8c8c8c" stroke-width="0.9"/>
<polyline points="527.35,483.80 537.90,483.80 548.45,483.80 559.00,482.10 569.55,479.56 580.10,470.23 590.65,471.93 601.20,457.51 611.75,446.49 622.30,460.90 632.85,429.53" fill="none" stroke="#f08080" stroke-width="0.9"/>
<circle cx="527.35" cy="483.80" r="2.2" fill="#fd7e7e" stroke="#333333" stroke-width="0.7"/>
<circle cx="537.90" cy="483.80" r="2.2" fill="#fd7e7e" stroke="#333333" stroke-width="0.7"/>
<circle cx="548.45" cy="483.80" r="2.2" fill="#fd7e7e" stroke="#333333" stroke-width="0.7"/>
<circle cx="559.00" cy="482.10" r="2.2" fill="#fd7e7e" stroke="#333333" stroke-width="0.7"/>
<circle cx="569.55" cy="479.56" r="2.2" fill="#fd7e7e" stroke="#333333" stroke-width="0.7"/>
<circle cx="580.10" cy="470.23" r="2.2" fill="#fd7e7e" stroke="#333333" stroke-width="0.7"/>
<circle cx="590.65" cy="471.93" r="2.2" fill="#fd7e7e" stroke="#333333" stroke-width="0.7"/>
<circle cx="601.20" cy="457.51" r="2.2" fill="#fd7e7e" stroke="#333333" stroke-width="0.7"/>
<circle cx="611.75" cy="446.49" r="2.2" fill="#fd7e7e" stroke="#333333" stroke-width="0.7"/>
<circle cx="622.30" cy="460.90" r="2.2" fill="#fd7e7e" stroke="#333333" stroke-width="0.7"/>
<circle cx="632.85" cy="429.53" r="2.2" fill="#fd7e7e" stroke="#333333" stroke-width="0.7"/>
<circle cx="527.35" cy="483.80" r="2.2" fill="#929292" stroke="#333333" stroke-width="0.7"/>
<circle cx="537.90" cy="483.80" r="2.2" fill="#929292" stroke="#333333" stroke-width="0.7"/>
<circle cx="548.45" cy="483.80" r="2.2" fill="#929292" stroke="#333333" stroke-width="0.7"/>
<circle cx="559.00" cy="482.95" r="2.2" fill="#929292" stroke="#333333" stroke-width="0.7"/>
<circle cx="569.55" cy="479.56" r="2.2" fill="#929292" stroke="#333333" stroke-width="0.7"/>
<circle cx="580.10" cy="471.93" r="2.2" fill="#929292" stroke="#333333" stroke-width="0.7"/>
<circle cx="590.65" cy="471.08" r="2.2" fill="#929292" stroke="#333333" stroke-width="0.7"/>
<circle cx="601.20" cy="457.51" r="2.2" fill="#929292" stroke="#333333" stroke-width="0.7"/>
<circle cx="611.75" cy="451.15" r="2.2" fill="#929292" stroke="#333333" stroke-width="0.7"/>
<circle cx="622.30" cy="457.51" r="2.2" fill="#929292" stroke="#333333" stroke-width="0.7"/>
<circle cx="632.85" cy="430.38" r="2.2" fill="#929292" stroke="#333333" stroke-width="0.7"/>
<line x1="667.90" y1="405.60" x2="667.90" y2="483.60" stroke="#474747" stroke-width="0.9"/>
<line x1="667.90" y1="483.60" x2="670.40" y2="483.60" stroke="#474747" stroke-width="0.9"/>
<text x="673.80" y="485.30" font-size="4.6" fill="#444" textLength="2.60" lengthAdjust="spacingAndGlyphs" style="stroke-width:0.1px;stroke:#444">0</text>
<line x1="667.90" y1="468.06" x2="670.40" y2="468.06" stroke="#474747" stroke-width="0.9"/>
<text x="673.80" y="469.76" font-size="4.6" fill="#444" textLength="8.40" lengthAdjust="spacingAndGlyphs" style="stroke-width:0.1px;stroke:#444">1 0</text>
<line x1="667.90" y1="452.52" x2="670.40" y2="452.52" stroke="#474747" stroke-width="0.9"/>
<text x="673.80" y="454.22" font-size="4.6" fill="#444" textLength="8.40" lengthAdjust="spacingAndGlyphs" style="stroke-width:0.1px;stroke:#444">2 0</text>
<line x1="667.90" y1="436.98" x2="670.40" y2="436.98" stroke="#474747" stroke-width="0.9"/>
<text x="673.80" y="438.68" font-size="4.6" fill="#444" textLength="8.40" lengthAdjust="spacingAndGlyphs" style="stroke-width:0.1px;stroke:#444">3 0</text>
<line x1="667.90" y1="421.44" x2="670.40" y2="421.44" stroke="#474747" stroke-width="0.9"/>
<text x="673.80" y="423.14" font-size="4.6" fill="#444" textLength="8.40" lengthAdjust="spacingAndGlyphs" style="stroke-width:0.1px;stroke:#444">4 0</text>
<line x1="667.90" y1="405.90" x2="670.40" y2="405.90" stroke="#474747" stroke-width="0.9"/>
<text x="673.80" y="407.60" font-size="4.6" fill="#444" textLength="8.40" lengthAdjust="spacingAndGlyphs" style="stroke-width:0.1px;stroke:#444">5 0</text>
<line x1="648.60" y1="483.60" x2="667.90" y2="483.60" stroke="#474747" stroke-width="0.9"/>
<line x1="648.60" y1="483.60" x2="648.60" y2="485.80" stroke="#474747" stroke-width="0.9"/>
<line x1="667.90" y1="483.60" x2="667.90" y2="485.80" stroke="#474747" stroke-width="0.9"/>
<line x1="658.40" y1="442.26" x2="658.40" y2="456.25" stroke="#aaa" stroke-width="0.8"/>
<line x1="656.90" y1="442.26" x2="659.90" y2="442.26" stroke="#aaa" stroke-width="0.8"/>
<line x1="656.90" y1="456.25" x2="659.90" y2="456.25" stroke="#aaa" stroke-width="0.8"/>
<line x1="658.40" y1="464.49" x2="658.40" y2="472.26" stroke="#f08080" stroke-width="0.8"/>
<line x1="656.90" y1="464.49" x2="659.90" y2="464.49" stroke="#f08080" stroke-width="0.8"/>
<line x1="656.90" y1="472.26" x2="659.90" y2="472.26" stroke="#f08080" stroke-width="0.8"/>
<circle cx="658.40" cy="449.26" r="2.2" fill="#929292" stroke="#333333" stroke-width="0.7"/>
<circle cx="658.40" cy="468.37" r="2.2" fill="#fd7e7e" stroke="#333333" stroke-width="0.7"/>
<text x="661.60" y="415.20" font-size="9.89" style="stroke-width:0.1px" text-anchor="middle" textLength="39.10" lengthAdjust="spacingAndGlyphs" transform="rotate(-90 661.60 415.20)">*<tspan font-style="italic">P</tspan>=0.0236</text>
<!-- panel_n -->
<text x="0.00" y="524.70" font-size="16">n</text>
<text x="32.10" y="537.40" font-size="9.5" textLength="126.50" lengthAdjust="spacingAndGlyphs">Neuron-specific GolpHCat KD</text>
<g fill="none" stroke="#1a1a1a" stroke-width="0.85">
<path d="M88.9,558.30 C87.5,556.80 85.5,556.40 82.8,556.40 C78.5,556.40 75,556.90 71.9,557.90 C68,559.10 65,561.10 63.1,563.30 C60.2,566.50 58.4,570.50 58.2,575.00 C58.0,578.50 58.2,581.50 58.8,584.90 C59.6,588.10 61.2,590.70 63.1,592.60 C65,594.30 67.5,595.90 70.0,596.70 C72.5,597.10 75.5,597.10 76.6,595.90 C77.6,594.70 78.0,592.50 77.9,590.40 C79.5,592.10 81.0,594.10 82.8,595.70 C84.5,596.60 86.5,596.90 88.9,596.90"/>
<path d="M88.9,558.30 C87.5,556.80 85.5,556.40 82.8,556.40 C78.5,556.40 75,556.90 71.9,557.90 C68,559.10 65,561.10 63.1,563.30 C60.2,566.50 58.4,570.50 58.2,575.00 C58.0,578.50 58.2,581.50 58.8,584.90 C59.6,588.10 61.2,590.70 63.1,592.60 C65,594.30 67.5,595.90 70.0,596.70 C72.5,597.10 75.5,597.10 76.6,595.90 C77.6,594.70 78.0,592.50 77.9,590.40 C79.5,592.10 81.0,594.10 82.8,595.70 C84.5,596.60 86.5,596.90 88.9,596.90" transform="translate(177.80,0) scale(-1,1)"/>
<path d="M65.3,591.10 C64.0,588.50 63.5,585.50 63.6,582.00 C63.7,577.50 64.2,573.50 65.2,570.70 C66.5,568.00 68.0,566.50 70.5,565.10 C73.5,563.80 77.0,563.10 80.5,563.00 C84,563.10 86.5,563.50 88.9,564.10"/>
<path d="M65.3,591.10 C64.0,588.50 63.5,585.50 63.6,582.00 C63.7,577.50 64.2,573.50 65.2,570.70 C66.5,568.00 68.0,566.50 70.5,565.10 C73.5,563.80 77.0,563.10 80.5,563.00 C84,563.10 86.5,563.50 88.9,564.10" transform="translate(177.80,0) scale(-1,1)"/>
<path d="M68.9,572.10 C69.5,570.00 71.5,567.90 74.5,566.90 C77.5,566.10 80.5,566.10 83.5,566.90 C85.5,567.70 87.0,568.50 88.2,569.50 M68.6,572.50 C74,572.10 80,571.70 87.2,571.30 M69.4,572.50 C69.0,576.50 69.0,580.50 69.8,584.50"/>
<path d="M68.9,572.10 C69.5,570.00 71.5,567.90 74.5,566.90 C77.5,566.10 80.5,566.10 83.5,566.90 C85.5,567.70 87.0,568.50 88.2,569.50 M68.6,572.50 C74,572.10 80,571.70 87.2,571.30 M69.4,572.50 C69.0,576.50 69.0,580.50 69.8,584.50" transform="translate(177.80,0) scale(-1,1)"/>
</g>
<path d="M71.6,571.10 C74,569.10 77.5,568.10 80.5,568.40 C82,568.80 83.2,569.50 84.0,570.30 C82,570.10 79,569.80 76.5,570.00 C74.5,570.40 73,570.80 71.6,571.10 Z" fill="#222" stroke="#222" stroke-width="0.6"/>
<path d="M71.6,571.10 C74,569.10 77.5,568.10 80.5,568.40 C82,568.80 83.2,569.50 84.0,570.30 C82,570.10 79,569.80 76.5,570.00 C74.5,570.40 73,570.80 71.6,571.10 Z" fill="#222" stroke="#222" stroke-width="0.6" transform="translate(177.80,0) scale(-1,1)"/>
<line x1="88.90" y1="558.30" x2="88.90" y2="564.50" stroke="#1a1a1a" stroke-width="0.85"/>
<path d="M88.9,568.10 C87.60000000000001,570.30 87.80000000000001,572.90 88.9,574.90 C90.0,572.90 90.2,570.30 88.9,568.10 Z" fill="#fff" stroke="#1a1a1a" stroke-width="0.8"/>
<line x1="88.90" y1="590.10" x2="88.90" y2="595.30" stroke="#1a1a1a" stroke-width="0.9"/>
<line x1="77.60" y1="543.10" x2="77.60" y2="566.20" stroke="#333" stroke-width="0.6"/>
<rect x="76.60" y="546.10" width="2.0" height="7.4" rx="1.0" fill="#fff" stroke="#333" stroke-width="0.55"/>
<line x1="98.40" y1="543.10" x2="98.40" y2="566.20" stroke="#333" stroke-width="0.6"/>
<rect x="97.40" y="546.10" width="2.0" height="7.4" rx="1.0" fill="#fff" stroke="#333" stroke-width="0.55"/>
<text x="118.20" y="563.10" font-size="8.3" textLength="44.70" lengthAdjust="spacingAndGlyphs">CA1 Neuron</text>
<rect x="18.10" y="608.40" width="7.40" height="7.10" fill="#999999" stroke="#555" stroke-width="0.5"/>
<rect x="18.10" y="633.20" width="7.40" height="7.10" fill="#c4c4fc" stroke="#555" stroke-width="0.5"/>
<text x="28.30" y="615.00" font-size="9.5" textLength="107.00" lengthAdjust="spacingAndGlyphs">AAV-CaMKIIα-cre-mCh +</text>
<text x="28.30" y="625.80" font-size="9.5" textLength="151.30" lengthAdjust="spacingAndGlyphs">Lenti-pSico-Scrambled shRNA-GFP</text>
<text x="28.30" y="639.80" font-size="9.5" textLength="107.00" lengthAdjust="spacingAndGlyphs">AAV-CaMKIIα-cre-mCh +</text>
<text x="28.30" y="650.60" font-size="9.5" textLength="148.30" lengthAdjust="spacingAndGlyphs">Lenti-pSico-GolpHCat shRNA-GFP</text>
<!-- panel_o -->
<text x="194.50" y="524.70" font-size="16">o</text>
<line x1="238.20" y1="553.10" x2="238.20" y2="641.60" stroke="#474747" stroke-width="0.9"/>
<line x1="235.70" y1="641.60" x2="238.20" y2="641.60" stroke="#474747" stroke-width="0.9"/>
<text x="234.30" y="645.00" font-size="9.5" text-anchor="end">0</text>
<line x1="235.70" y1="619.55" x2="238.20" y2="619.55" stroke="#474747" stroke-width="0.9"/>
<text x="234.30" y="622.95" font-size="9.5" text-anchor="end">20</text>
<line x1="235.70" y1="597.50" x2="238.20" y2="597.50" stroke="#474747" stroke-width="0.9"/>
<text x="234.30" y="600.90" font-size="9.5" text-anchor="end">40</text>
<line x1="235.70" y1="575.45" x2="238.20" y2="575.45" stroke="#474747" stroke-width="0.9"/>
<text x="234.30" y="578.85" font-size="9.5" text-anchor="end">60</text>
<line x1="235.70" y1="553.40" x2="238.20" y2="553.40" stroke="#474747" stroke-width="0.9"/>
<text x="234.30" y="556.80" font-size="9.5" text-anchor="end">80</text>
<line x1="238.20" y1="641.60" x2="346.80" y2="641.60" stroke="#474747" stroke-width="0.9"/>
<rect x="245.80" y="609.96" width="15.10" height="31.64" fill="#a5a5a8" stroke="#2a2a2a" stroke-width="0.8"/>
<rect x="267.20" y="602.90" width="14.90" height="38.70" fill="url(#hg)" stroke="#2a2a2a" stroke-width="0.8"/>
<rect x="301.50" y="603.89" width="15.30" height="37.71" fill="#c0c0fd" stroke="#2a2a2a" stroke-width="0.8"/>
<rect x="322.90" y="604.12" width="14.90" height="37.49" fill="url(#hl)" stroke="#2a2a2a" stroke-width="0.8"/>
<line x1="253.35" y1="609.96" x2="253.35" y2="606.30" stroke="#555" stroke-width="0.8"/>
<line x1="249.55" y1="606.30" x2="257.15" y2="606.30" stroke="#555" stroke-width="0.8"/>
<circle cx="253.30" cy="593.10" r="1.05" fill="#000"/>
<circle cx="253.30" cy="601.70" r="1.05" fill="#000"/>
<circle cx="253.30" cy="604.00" r="1.05" fill="#000"/>
<circle cx="252.50" cy="606.80" r="1.05" fill="#000"/>
<circle cx="254.80" cy="606.80" r="1.05" fill="#000"/>
<circle cx="253.30" cy="617.30" r="1.05" fill="#000"/>
<circle cx="253.30" cy="620.80" r="1.05" fill="#000"/>
<circle cx="253.30" cy="625.00" r="1.05" fill="#000"/>
<line x1="274.65" y1="602.90" x2="274.65" y2="598.20" stroke="#555" stroke-width="0.8"/>
<line x1="270.85" y1="598.20" x2="278.45" y2="598.20" stroke="#555" stroke-width="0.8"/>
<circle cx="274.50" cy="588.10" r="1.05" fill="#000"/>
<circle cx="270.60" cy="592.90" r="1.05" fill="#000"/>
<circle cx="274.50" cy="593.50" r="1.05" fill="#000"/>
<circle cx="278.70" cy="593.10" r="1.05" fill="#000"/>
<circle cx="274.50" cy="604.00" r="1.05" fill="#000"/>
<circle cx="274.50" cy="608.70" r="1.05" fill="#000"/>
<circle cx="274.50" cy="615.40" r="1.05" fill="#000"/>
<circle cx="274.50" cy="621.10" r="1.05" fill="#000"/>
<line x1="309.15" y1="603.89" x2="309.15" y2="599.30" stroke="#555" stroke-width="0.8"/>
<line x1="305.35" y1="599.30" x2="312.95" y2="599.30" stroke="#555" stroke-width="0.8"/>
<circle cx="308.80" cy="573.80" r="1.05" fill="#000"/>
<circle cx="308.80" cy="586.80" r="1.05" fill="#000"/>
<circle cx="308.80" cy="602.00" r="1.05" fill="#000"/>
<circle cx="305.40" cy="606.80" r="1.05" fill="#000"/>
<circle cx="312.20" cy="606.80" r="1.05" fill="#000"/>
<circle cx="308.80" cy="609.70" r="1.05" fill="#000"/>
<circle cx="306.90" cy="619.20" r="1.05" fill="#000"/>
<circle cx="310.70" cy="618.30" r="1.05" fill="#000"/>
<line x1="330.35" y1="604.12" x2="330.35" y2="598.80" stroke="#555" stroke-width="0.8"/>
<line x1="326.55" y1="598.80" x2="334.15" y2="598.80" stroke="#555" stroke-width="0.8"/>
<circle cx="330.20" cy="578.80" r="1.05" fill="#000"/>
<circle cx="330.20" cy="583.40" r="1.05" fill="#000"/>
<circle cx="327.30" cy="598.60" r="1.05" fill="#000"/>
<circle cx="333.10" cy="598.60" r="1.05" fill="#000"/>
<circle cx="330.20" cy="604.00" r="1.05" fill="#000"/>
<circle cx="328.30" cy="608.70" r="1.05" fill="#000"/>
<circle cx="332.10" cy="613.50" r="1.05" fill="#000"/>
<circle cx="330.20" cy="625.00" r="1.05" fill="#000"/>
<path d="M253.60,591.70 L253.60,562.30 L274.60,562.30 L274.60,579.90" fill="none" stroke="#777" stroke-width="0.8"/>
<path d="M309.30,569.40 L309.30,562.30 L330.50,562.30 L330.50,570.70" fill="none" stroke="#777" stroke-width="0.8"/>
<text x="244.40" y="557.00" font-size="9.20" style="stroke-width:0.1px" textLength="38.60" lengthAdjust="spacingAndGlyphs">*<tspan font-style="italic">P</tspan>=0.0354</text>
<text x="320.60" y="557.00" font-size="9.5" text-anchor="middle">ns</text>
<text x="264.10" y="653.40" font-size="9.5" text-anchor="middle">Scrambled</text>
<text x="318.50" y="653.40" font-size="9.5" text-anchor="middle">Neuronal</text>
<text x="318.50" y="664.50" font-size="9.5" text-anchor="middle">KD</text>
<rect x="241.00" y="528.60" width="7.30" height="6.40" fill="#a5a5a8" stroke="#333" stroke-width="0.6"/>
<rect x="249.10" y="528.60" width="7.30" height="6.40" fill="#c0c0fd" stroke="#333" stroke-width="0.6"/>
<rect x="241.00" y="537.00" width="7.30" height="6.40" fill="#a5a5a8" stroke="#333" stroke-width="0.6"/>
<line x1="241.60" y1="542.80" x2="247.70" y2="537.60" stroke="#111" stroke-width="0.9"/>
<rect x="249.10" y="537.00" width="7.30" height="6.40" fill="#c0c0fd" stroke="#333" stroke-width="0.6"/>
<line x1="249.70" y1="542.80" x2="255.80" y2="537.60" stroke="#111" stroke-width="0.9"/>
<text x="260.20" y="535.00" font-size="9.5" textLength="67.90" lengthAdjust="spacingAndGlyphs">Familiar location</text>
<text x="260.20" y="543.40" font-size="9.5" textLength="58.60" lengthAdjust="spacingAndGlyphs">Novel location</text>
<text x="214.20" y="598.80" font-size="9" text-anchor="middle" textLength="109.60" lengthAdjust="spacingAndGlyphs" transform="rotate(-90 214.20 598.80)">Total exploration time (s)</text>
<!-- panel_p -->
<text x="357.20" y="524.70" font-size="16">p</text>
<line x1="411.00" y1="537.00" x2="411.00" y2="618.30" stroke="#474747" stroke-width="0.9"/>
<line x1="408.50" y1="537.30" x2="411.00" y2="537.30" stroke="#474747" stroke-width="0.9"/>
<text x="407.10" y="540.70" font-size="9.5" text-anchor="end">30</text>
<line x1="408.50" y1="553.50" x2="411.00" y2="553.50" stroke="#474747" stroke-width="0.9"/>
<text x="407.10" y="556.90" font-size="9.5" text-anchor="end">20</text>
<line x1="408.50" y1="569.70" x2="411.00" y2="569.70" stroke="#474747" stroke-width="0.9"/>
<text x="407.10" y="573.10" font-size="9.5" text-anchor="end">10</text>
<line x1="408.50" y1="585.90" x2="411.00" y2="585.90" stroke="#474747" stroke-width="0.9"/>
<text x="407.10" y="589.30" font-size="9.5" text-anchor="end">0</text>
<line x1="408.50" y1="602.10" x2="411.00" y2="602.10" stroke="#474747" stroke-width="0.9"/>
<text x="407.10" y="605.50" font-size="9.5" text-anchor="end">-10</text>
<line x1="408.50" y1="618.30" x2="411.00" y2="618.30" stroke="#474747" stroke-width="0.9"/>
<text x="407.10" y="621.70" font-size="9.5" text-anchor="end">-20</text>
<line x1="411.00" y1="618.30" x2="460.00" y2="618.30" stroke="#474747" stroke-width="0.9"/>
<line x1="424.00" y1="618.30" x2="424.00" y2="620.80" stroke="#474747" stroke-width="0.9"/>
<line x1="446.00" y1="618.30" x2="446.00" y2="620.80" stroke="#474747" stroke-width="0.9"/>
<rect x="417.40" y="570.19" width="13.70" height="15.71" fill="#a5a5a8" stroke="#2a2a2a" stroke-width="0.8"/>
<rect x="438.90" y="585.90" width="14.20" height="1.78" fill="#7272e0" stroke="#2a2a2a" stroke-width="0.8"/>
<line x1="411.00" y1="585.90" x2="460.00" y2="585.90" stroke="#555" stroke-width="1.0"/>
<line x1="424.25" y1="570.19" x2="424.25" y2="565.00" stroke="#333" stroke-width="0.8"/>
<line x1="421.25" y1="565.00" x2="427.25" y2="565.00" stroke="#333" stroke-width="0.8"/>
<circle cx="423.90" cy="545.10" r="1.05" fill="#000"/>
<circle cx="423.90" cy="560.60" r="1.05" fill="#000"/>
<circle cx="423.90" cy="565.00" r="1.05" fill="#000"/>
<circle cx="423.90" cy="586.00" r="1.05" fill="#000"/>
<circle cx="423.90" cy="593.40" r="1.05" fill="#000"/>
<line x1="446.00" y1="587.68" x2="446.00" y2="592.40" stroke="#333" stroke-width="0.8"/>
<line x1="443.00" y1="592.40" x2="449.00" y2="592.40" stroke="#333" stroke-width="0.8"/>
<circle cx="445.90" cy="570.20" r="1.05" fill="#000"/>
<circle cx="445.90" cy="576.10" r="1.05" fill="#000"/>
<circle cx="445.90" cy="580.00" r="1.05" fill="#000"/>
<circle cx="445.90" cy="583.00" r="1.05" fill="#000"/>
<circle cx="445.90" cy="592.40" r="1.05" fill="#000"/>
<circle cx="445.90" cy="609.70" r="1.05" fill="#000"/>
<circle cx="445.90" cy="614.10" r="1.05" fill="#000"/>
<path d="M423.90,541.20 L423.90,536.50 L445.90,536.50 L445.90,564.50" fill="none" stroke="#777" stroke-width="0.8"/>
<text x="416.90" y="530.90" font-size="9.20" style="stroke-width:0.1px" textLength="38.00" lengthAdjust="spacingAndGlyphs">*<tspan font-style="italic">P</tspan>=0.0226</text>
<text x="385.50" y="579.00" font-size="9" text-anchor="middle" textLength="110.00" lengthAdjust="spacingAndGlyphs" transform="rotate(-90 385.50 579.00)">Discrimination index (%)</text>
<text x="427.50" y="630.30" font-size="9.5" text-anchor="end" transform="rotate(-45 427.50 630.30)">Scramble</text>
<text x="449.00" y="630.30" font-size="9.5" text-anchor="end" transform="rotate(-45 449.00 630.30)">Neuronal KD</text>
<!-- panel_q -->
<text x="472.20" y="524.70" font-size="16">q</text>
<line x1="516.80" y1="567.30" x2="516.80" y2="652.40" stroke="#474747" stroke-width="0.9"/>
<line x1="514.30" y1="652.40" x2="516.80" y2="652.40" stroke="#474747" stroke-width="0.9"/>
<text x="513.00" y="655.80" font-size="9.5" text-anchor="end">0</text>
<line x1="514.30" y1="635.44" x2="516.80" y2="635.44" stroke="#474747" stroke-width="0.9"/>
<text x="513.00" y="638.84" font-size="9.5" text-anchor="end">20</text>
<line x1="514.30" y1="618.48" x2="516.80" y2="618.48" stroke="#474747" stroke-width="0.9"/>
<text x="513.00" y="621.88" font-size="9.5" text-anchor="end">40</text>
<line x1="514.30" y1="601.52" x2="516.80" y2="601.52" stroke="#474747" stroke-width="0.9"/>
<text x="513.00" y="604.92" font-size="9.5" text-anchor="end">60</text>
<line x1="514.30" y1="584.56" x2="516.80" y2="584.56" stroke="#474747" stroke-width="0.9"/>
<text x="513.00" y="587.96" font-size="9.5" text-anchor="end">80</text>
<line x1="514.30" y1="567.60" x2="516.80" y2="567.60" stroke="#474747" stroke-width="0.9"/>
<text x="513.00" y="571.00" font-size="9.5" text-anchor="end">100</text>
<line x1="516.80" y1="652.40" x2="633.40" y2="652.40" stroke="#474747" stroke-width="0.9"/>
<line x1="516.80" y1="652.40" x2="516.80" y2="654.90" stroke="#474747" stroke-width="0.9"/>
<text x="516.80" y="666.60" font-size="9.5" text-anchor="middle">0</text>
<line x1="527.35" y1="652.40" x2="527.35" y2="654.90" stroke="#474747" stroke-width="0.9"/>
<text x="527.35" y="666.60" font-size="9.5" text-anchor="middle">1</text>
<line x1="537.90" y1="652.40" x2="537.90" y2="654.90" stroke="#474747" stroke-width="0.9"/>
<text x="537.90" y="666.60" font-size="9.5" text-anchor="middle">2</text>
<line x1="548.45" y1="652.40" x2="548.45" y2="654.90" stroke="#474747" stroke-width="0.9"/>
<text x="548.45" y="666.60" font-size="9.5" text-anchor="middle">3</text>
<line x1="559.00" y1="652.40" x2="559.00" y2="654.90" stroke="#474747" stroke-width="0.9"/>
<text x="559.00" y="666.60" font-size="9.5" text-anchor="middle">4</text>
<line x1="569.55" y1="652.40" x2="569.55" y2="654.90" stroke="#474747" stroke-width="0.9"/>
<text x="569.55" y="666.60" font-size="9.5" text-anchor="middle">5</text>
<line x1="580.10" y1="652.40" x2="580.10" y2="654.90" stroke="#474747" stroke-width="0.9"/>
<text x="580.10" y="666.60" font-size="9.5" text-anchor="middle">6</text>
<line x1="590.65" y1="652.40" x2="590.65" y2="654.90" stroke="#474747" stroke-width="0.9"/>
<text x="590.65" y="666.60" font-size="9.5" text-anchor="middle">7</text>
<line x1="601.20" y1="652.40" x2="601.20" y2="654.90" stroke="#474747" stroke-width="0.9"/>
<text x="601.20" y="666.60" font-size="9.5" text-anchor="middle">8</text>
<line x1="611.75" y1="652.40" x2="611.75" y2="654.90" stroke="#474747" stroke-width="0.9"/>
<text x="611.75" y="666.60" font-size="9.5" text-anchor="middle">9</text>
<line x1="622.30" y1="652.40" x2="622.30" y2="654.90" stroke="#474747" stroke-width="0.9"/>
<text x="622.30" y="666.60" font-size="9.5" text-anchor="middle">10</text>
<line x1="632.85" y1="652.40" x2="632.85" y2="654.90" stroke="#474747" stroke-width="0.9"/>
<text x="632.85" y="666.60" font-size="9.5" text-anchor="middle">11</text>
<text x="575.00" y="678.90" font-size="10" text-anchor="middle" textLength="48.50" lengthAdjust="spacingAndGlyphs">Time (min)</text>
<text x="491.90" y="612.70" font-size="9.5" text-anchor="middle" textLength="56.80" lengthAdjust="spacingAndGlyphs" transform="rotate(-90 491.90 612.70)">Freezing (%)</text>
<circle cx="525.00" cy="532.10" r="3.0" fill="#929292" stroke="#333333" stroke-width="0.7"/>
<circle cx="525.00" cy="541.00" r="3.0" fill="#8282f3" stroke="#333333" stroke-width="0.7"/>
<text x="531.60" y="535.70" font-size="9.5">Scrambled</text>
<text x="531.60" y="544.60" font-size="9.5">Neuronal KD</text>
<text x="580.30" y="562.30" font-size="9.5" text-anchor="middle" textLength="46.60" lengthAdjust="spacingAndGlyphs">Acquisition</text>
<text x="640.10" y="550.10" font-size="9.5" textLength="37.10" lengthAdjust="spacingAndGlyphs">Retrieval</text>
<line x1="555.70" y1="574.20" x2="555.70" y2="577.60" stroke="#8080f0" stroke-width="0.9"/>
<line x1="571.40" y1="574.20" x2="571.40" y2="577.60" stroke="#8080f0" stroke-width="0.9"/>
<line x1="587.50" y1="574.20" x2="587.50" y2="577.60" stroke="#8080f0" stroke-width="0.9"/>
<line x1="603.30" y1="574.20" x2="603.30" y2="577.60" stroke="#8080f0" stroke-width="0.9"/>
<line x1="619.40" y1="574.20" x2="619.40" y2="577.60" stroke="#8080f0" stroke-width="0.9"/>
<line x1="633.50" y1="582.80" x2="633.50" y2="652.40" stroke="#888" stroke-width="0.7" stroke-dasharray="0.9 1.2"/>
<text x="617.30" y="595.50" font-size="9.5">ns</text>
<line x1="559.00" y1="649.86" x2="559.00" y2="650.70" stroke="#aaa" stroke-width="0.7"/>
<line x1="557.50" y1="649.86" x2="560.50" y2="649.86" stroke="#aaa" stroke-width="0.7"/>
<line x1="557.50" y1="650.70" x2="560.50" y2="650.70" stroke="#aaa" stroke-width="0.7"/>
<line x1="569.55" y1="643.92" x2="569.55" y2="646.46" stroke="#aaa" stroke-width="0.7"/>
<line x1="568.05" y1="643.92" x2="571.05" y2="643.92" stroke="#aaa" stroke-width="0.7"/>
<line x1="568.05" y1="646.46" x2="571.05" y2="646.46" stroke="#aaa" stroke-width="0.7"/>
<line x1="569.55" y1="649.86" x2="569.55" y2="650.70" stroke="#9090f0" stroke-width="0.7"/>
<line x1="568.05" y1="649.86" x2="571.05" y2="649.86" stroke="#9090f0" stroke-width="0.7"/>
<line x1="568.05" y1="650.70" x2="571.05" y2="650.70" stroke="#9090f0" stroke-width="0.7"/>
<line x1="580.10" y1="633.32" x2="580.10" y2="638.83" stroke="#aaa" stroke-width="0.7"/>
<line x1="578.60" y1="633.32" x2="581.60" y2="633.32" stroke="#aaa" stroke-width="0.7"/>
<line x1="578.60" y1="638.83" x2="581.60" y2="638.83" stroke="#aaa" stroke-width="0.7"/>
<line x1="580.10" y1="644.77" x2="580.10" y2="646.46" stroke="#9090f0" stroke-width="0.7"/>
<line x1="578.60" y1="644.77" x2="581.60" y2="644.77" stroke="#9090f0" stroke-width="0.7"/>
<line x1="578.60" y1="646.46" x2="581.60" y2="646.46" stroke="#9090f0" stroke-width="0.7"/>
<line x1="590.65" y1="629.08" x2="590.65" y2="633.74" stroke="#aaa" stroke-width="0.7"/>
<line x1="589.15" y1="629.08" x2="592.15" y2="629.08" stroke="#aaa" stroke-width="0.7"/>
<line x1="589.15" y1="633.74" x2="592.15" y2="633.74" stroke="#aaa" stroke-width="0.7"/>
<line x1="590.65" y1="637.14" x2="590.65" y2="638.83" stroke="#9090f0" stroke-width="0.7"/>
<line x1="589.15" y1="637.14" x2="592.15" y2="637.14" stroke="#9090f0" stroke-width="0.7"/>
<line x1="589.15" y1="638.83" x2="592.15" y2="638.83" stroke="#9090f0" stroke-width="0.7"/>
<line x1="601.20" y1="618.48" x2="601.20" y2="623.57" stroke="#aaa" stroke-width="0.7"/>
<line x1="599.70" y1="618.48" x2="602.70" y2="618.48" stroke="#aaa" stroke-width="0.7"/>
<line x1="599.70" y1="623.57" x2="602.70" y2="623.57" stroke="#aaa" stroke-width="0.7"/>
<line x1="601.20" y1="628.23" x2="601.20" y2="630.35" stroke="#9090f0" stroke-width="0.7"/>
<line x1="599.70" y1="628.23" x2="602.70" y2="628.23" stroke="#9090f0" stroke-width="0.7"/>
<line x1="599.70" y1="630.35" x2="602.70" y2="630.35" stroke="#9090f0" stroke-width="0.7"/>
<line x1="611.75" y1="611.27" x2="611.75" y2="617.63" stroke="#aaa" stroke-width="0.7"/>
<line x1="610.25" y1="611.27" x2="613.25" y2="611.27" stroke="#aaa" stroke-width="0.7"/>
<line x1="610.25" y1="617.63" x2="613.25" y2="617.63" stroke="#aaa" stroke-width="0.7"/>
<line x1="611.75" y1="615.09" x2="611.75" y2="617.63" stroke="#9090f0" stroke-width="0.7"/>
<line x1="610.25" y1="615.09" x2="613.25" y2="615.09" stroke="#9090f0" stroke-width="0.7"/>
<line x1="610.25" y1="617.63" x2="613.25" y2="617.63" stroke="#9090f0" stroke-width="0.7"/>
<line x1="622.30" y1="615.94" x2="622.30" y2="618.48" stroke="#aaa" stroke-width="0.7"/>
<line x1="620.80" y1="615.94" x2="623.80" y2="615.94" stroke="#aaa" stroke-width="0.7"/>
<line x1="620.80" y1="618.48" x2="623.80" y2="618.48" stroke="#aaa" stroke-width="0.7"/>
<line x1="622.30" y1="609.15" x2="622.30" y2="615.09" stroke="#9090f0" stroke-width="0.7"/>
<line x1="620.80" y1="609.15" x2="623.80" y2="609.15" stroke="#9090f0" stroke-width="0.7"/>
<line x1="620.80" y1="615.09" x2="623.80" y2="615.09" stroke="#9090f0" stroke-width="0.7"/>
<line x1="632.85" y1="598.13" x2="632.85" y2="600.67" stroke="#aaa" stroke-width="0.7"/>
<line x1="631.35" y1="598.13" x2="634.35" y2="598.13" stroke="#aaa" stroke-width="0.7"/>
<line x1="631.35" y1="600.67" x2="634.35" y2="600.67" stroke="#aaa" stroke-width="0.7"/>
<line x1="632.85" y1="587.10" x2="632.85" y2="593.04" stroke="#9090f0" stroke-width="0.7"/>
<line x1="631.35" y1="587.10" x2="634.35" y2="587.10" stroke="#9090f0" stroke-width="0.7"/>
<line x1="631.35" y1="593.04" x2="634.35" y2="593.04" stroke="#9090f0" stroke-width="0.7"/>
<polyline points="527.35,652.40 537.90,652.40 548.45,652.40 559.00,650.70 569.55,646.46 580.10,638.83 590.65,633.74 601.20,623.57 611.75,617.63 622.30,618.48 632.85,600.67" fill="none" stroke="#8c8c8c" stroke-width="0.9"/>
<polyline points="527.35,652.40 537.90,652.40 548.45,652.40 559.00,652.40 569.55,650.70 580.10,646.46 590.65,638.83 601.20,630.35 611.75,617.63 622.30,615.09 632.85,593.04" fill="none" stroke="#8080f0" stroke-width="0.9"/>
<circle cx="527.35" cy="652.40" r="2.2" fill="#929292" stroke="#333333" stroke-width="0.7"/>
<circle cx="537.90" cy="652.40" r="2.2" fill="#929292" stroke="#333333" stroke-width="0.7"/>
<circle cx="548.45" cy="652.40" r="2.2" fill="#929292" stroke="#333333" stroke-width="0.7"/>
<circle cx="559.00" cy="650.70" r="2.2" fill="#929292" stroke="#333333" stroke-width="0.7"/>
<circle cx="569.55" cy="646.46" r="2.2" fill="#929292" stroke="#333333" stroke-width="0.7"/>
<circle cx="580.10" cy="638.83" r="2.2" fill="#929292" stroke="#333333" stroke-width="0.7"/>
<circle cx="590.65" cy="633.74" r="2.2" fill="#929292" stroke="#333333" stroke-width="0.7"/>
<circle cx="601.20" cy="623.57" r="2.2" fill="#929292" stroke="#333333" stroke-width="0.7"/>
<circle cx="611.75" cy="617.63" r="2.2" fill="#929292" stroke="#333333" stroke-width="0.7"/>
<circle cx="622.30" cy="618.48" r="2.2" fill="#929292" stroke="#333333" stroke-width="0.7"/>
<circle cx="632.85" cy="600.67" r="2.2" fill="#929292" stroke="#333333" stroke-width="0.7"/>
<circle cx="527.35" cy="652.40" r="2.2" fill="#8282f3" stroke="#333333" stroke-width="0.7"/>
<circle cx="537.90" cy="652.40" r="2.2" fill="#8282f3" stroke="#333333" stroke-width="0.7"/>
<circle cx="548.45" cy="652.40" r="2.2" fill="#8282f3" stroke="#333333" stroke-width="0.7"/>
<circle cx="559.00" cy="652.40" r="2.2" fill="#8282f3" stroke="#333333" stroke-width="0.7"/>
<circle cx="569.55" cy="650.70" r="2.2" fill="#8282f3" stroke="#333333" stroke-width="0.7"/>
<circle cx="580.10" cy="646.46" r="2.2" fill="#8282f3" stroke="#333333" stroke-width="0.7"/>
<circle cx="590.65" cy="638.83" r="2.2" fill="#8282f3" stroke="#333333" stroke-width="0.7"/>
<circle cx="601.20" cy="630.35" r="2.2" fill="#8282f3" stroke="#333333" stroke-width="0.7"/>
<circle cx="611.75" cy="617.63" r="2.2" fill="#8282f3" stroke="#333333" stroke-width="0.7"/>
<circle cx="622.30" cy="615.09" r="2.2" fill="#8282f3" stroke="#333333" stroke-width="0.7"/>
<circle cx="632.85" cy="593.04" r="2.2" fill="#8282f3" stroke="#333333" stroke-width="0.7"/>
<circle cx="527.35" cy="652.40" r="2.2" fill="#929292" stroke="#333333" stroke-width="0.7"/>
<circle cx="537.90" cy="652.40" r="2.2" fill="#929292" stroke="#333333" stroke-width="0.7"/>
<circle cx="548.45" cy="652.40" r="2.2" fill="#929292" stroke="#333333" stroke-width="0.7"/>
<circle cx="559.00" cy="650.70" r="2.2" fill="#929292" stroke="#333333" stroke-width="0.7"/>
<line x1="667.90" y1="574.20" x2="667.90" y2="652.20" stroke="#474747" stroke-width="0.9"/>
<line x1="667.90" y1="652.20" x2="670.40" y2="652.20" stroke="#474747" stroke-width="0.9"/>
<text x="674.40" y="655.60" font-size="9.5">0</text>
<line x1="667.90" y1="636.66" x2="670.40" y2="636.66" stroke="#474747" stroke-width="0.9"/>
<text x="674.40" y="640.06" font-size="9.5">10</text>
<line x1="667.90" y1="621.12" x2="670.40" y2="621.12" stroke="#474747" stroke-width="0.9"/>
<text x="674.40" y="624.52" font-size="9.5">20</text>
<line x1="667.90" y1="605.58" x2="670.40" y2="605.58" stroke="#474747" stroke-width="0.9"/>
<text x="674.40" y="608.98" font-size="9.5">30</text>
<line x1="667.90" y1="590.04" x2="670.40" y2="590.04" stroke="#474747" stroke-width="0.9"/>
<text x="674.40" y="593.44" font-size="9.5">40</text>
<line x1="667.90" y1="574.50" x2="670.40" y2="574.50" stroke="#474747" stroke-width="0.9"/>
<text x="674.40" y="577.90" font-size="9.5">50</text>
<line x1="648.60" y1="652.20" x2="667.90" y2="652.20" stroke="#474747" stroke-width="0.9"/>
<line x1="648.60" y1="652.20" x2="648.60" y2="654.40" stroke="#474747" stroke-width="0.9"/>
<line x1="667.90" y1="652.20" x2="667.90" y2="654.40" stroke="#474747" stroke-width="0.9"/>
<line x1="648.60" y1="581.70" x2="648.60" y2="652.20" stroke="#888" stroke-width="0.7" stroke-dasharray="0.9 1.2"/>
<line x1="658.40" y1="602.47" x2="658.40" y2="616.46" stroke="#aaa" stroke-width="0.8"/>
<line x1="656.90" y1="602.47" x2="659.90" y2="602.47" stroke="#aaa" stroke-width="0.8"/>
<line x1="656.90" y1="616.46" x2="659.90" y2="616.46" stroke="#aaa" stroke-width="0.8"/>
<line x1="658.40" y1="627.34" x2="658.40" y2="633.55" stroke="#9090f0" stroke-width="0.8"/>
<line x1="656.90" y1="627.34" x2="659.90" y2="627.34" stroke="#9090f0" stroke-width="0.8"/>
<line x1="656.90" y1="633.55" x2="659.90" y2="633.55" stroke="#9090f0" stroke-width="0.8"/>
<circle cx="658.40" cy="609.47" r="2.2" fill="#929292" stroke="#333333" stroke-width="0.7"/>
<circle cx="658.40" cy="630.44" r="2.2" fill="#8282f3" stroke="#333333" stroke-width="0.7"/>
<text x="661.60" y="576.90" font-size="9.89" style="stroke-width:0.1px" text-anchor="middle" textLength="39.10" lengthAdjust="spacingAndGlyphs" transform="rotate(-90 661.60 576.90)">*<tspan font-style="italic">P</tspan>=0.0343</text>
</svg>
</body></html>
